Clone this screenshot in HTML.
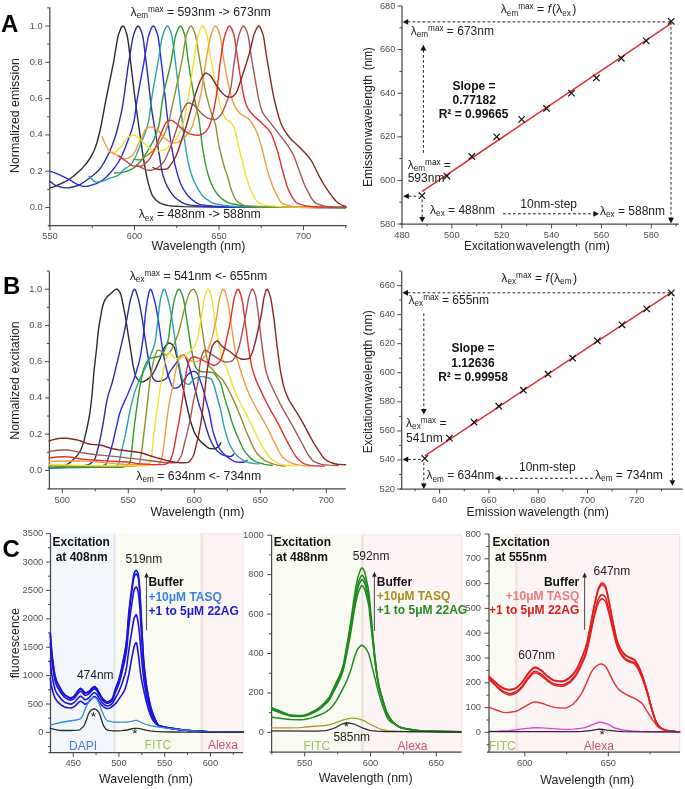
<!DOCTYPE html>
<html><head><meta charset="utf-8"><style>
html,body{margin:0;padding:0;background:#fff;}
svg{display:block;font-family:"Liberation Sans", sans-serif;will-change:transform;}
</style></head><body>
<svg width="685" height="789" viewBox="0 0 685 789">
<rect x="0" y="0" width="685" height="789" fill="#fff"/>
<text x="1" y="31.9" font-size="24" text-anchor="start" fill="#000" font-weight="bold" >A</text>
<text x="3" y="293.9" font-size="24" text-anchor="start" fill="#000" font-weight="bold" >B</text>
<text x="2.5" y="556.5" font-size="24" text-anchor="start" fill="#000" font-weight="bold" >C</text>
<rect x="50.5" y="533.4" width="63.1" height="219.1" fill="#f3f7fc"/>
<rect x="113.3" y="533.4" width="2.5" height="219.1" fill="#e3e9e9"/>
<rect x="115.8" y="533.4" width="85" height="219.1" fill="#f9fbf3"/>
<rect x="200.6" y="533.4" width="2" height="219.1" fill="#ede2dc"/>
<rect x="202.8" y="533.4" width="40.2" height="219.1" fill="#fdf5f5"/>
<rect x="202.8" y="533.9" width="40.2" height="218.4" fill="none" stroke="#f1dcdc" stroke-width="0.8"/>
<rect x="271.6" y="534.5" width="89.6" height="217.1" fill="#f9fbf3"/>
<rect x="361.2" y="534.5" width="1.6" height="217.1" fill="#e9dfd6"/>
<rect x="362.9" y="534.5" width="98.4" height="217.1" fill="#fdf5f5"/>
<rect x="363.2" y="534.9" width="98.1" height="216.5" fill="none" stroke="#f1dcdc" stroke-width="0.8"/>
<rect x="489.2" y="534.1" width="26.2" height="217.6" fill="#f9fbf3"/>
<rect x="515.2" y="534.1" width="1.6" height="217.6" fill="#ede2dc"/>
<rect x="516.8" y="534.1" width="163.2" height="217.6" fill="#fdf5f5"/>
<rect x="517.2" y="534.5" width="162.6" height="217" fill="none" stroke="#f1dcdc" stroke-width="0.8"/>
<line x1="49.8" y1="7.6" x2="49.8" y2="226.2" stroke="#484848" stroke-width="1.25" />
<line x1="47.8" y1="225.7" x2="346.6" y2="225.7" stroke="#484848" stroke-width="1.25" />
<line x1="45.3" y1="207.5" x2="49.8" y2="207.5" stroke="#484848" stroke-width="1.0" />
<line x1="45.3" y1="171.2" x2="49.8" y2="171.2" stroke="#484848" stroke-width="1.0" />
<line x1="45.3" y1="134.9" x2="49.8" y2="134.9" stroke="#484848" stroke-width="1.0" />
<line x1="45.3" y1="98.6" x2="49.8" y2="98.6" stroke="#484848" stroke-width="1.0" />
<line x1="45.3" y1="62.3" x2="49.8" y2="62.3" stroke="#484848" stroke-width="1.0" />
<line x1="45.3" y1="26" x2="49.8" y2="26" stroke="#484848" stroke-width="1.0" />
<line x1="47.2" y1="189.35" x2="49.8" y2="189.35" stroke="#484848" stroke-width="1.0" />
<line x1="47.2" y1="153.05" x2="49.8" y2="153.05" stroke="#484848" stroke-width="1.0" />
<line x1="47.2" y1="116.75" x2="49.8" y2="116.75" stroke="#484848" stroke-width="1.0" />
<line x1="47.2" y1="80.45" x2="49.8" y2="80.45" stroke="#484848" stroke-width="1.0" />
<line x1="47.2" y1="44.15" x2="49.8" y2="44.15" stroke="#484848" stroke-width="1.0" />
<line x1="47.2" y1="7.85" x2="49.8" y2="7.85" stroke="#484848" stroke-width="1.0" />
<line x1="50" y1="225.7" x2="50" y2="230.1" stroke="#484848" stroke-width="1.0" />
<line x1="134.5" y1="225.7" x2="134.5" y2="230.1" stroke="#484848" stroke-width="1.0" />
<line x1="219" y1="225.7" x2="219" y2="230.1" stroke="#484848" stroke-width="1.0" />
<line x1="303.5" y1="225.7" x2="303.5" y2="230.1" stroke="#484848" stroke-width="1.0" />
<line x1="92.25" y1="225.7" x2="92.25" y2="228.1" stroke="#484848" stroke-width="1.0" />
<line x1="176.75" y1="225.7" x2="176.75" y2="228.1" stroke="#484848" stroke-width="1.0" />
<line x1="261.25" y1="225.7" x2="261.25" y2="228.1" stroke="#484848" stroke-width="1.0" />
<line x1="345.75" y1="225.7" x2="345.75" y2="228.1" stroke="#484848" stroke-width="1.0" />
<text x="42.6" y="210" font-size="9.3" text-anchor="end" fill="#505050" font-weight="normal" >0.0</text>
<text x="42.6" y="173.7" font-size="9.3" text-anchor="end" fill="#505050" font-weight="normal" >0.2</text>
<text x="42.6" y="137.4" font-size="9.3" text-anchor="end" fill="#505050" font-weight="normal" >0.4</text>
<text x="42.6" y="101.1" font-size="9.3" text-anchor="end" fill="#505050" font-weight="normal" >0.6</text>
<text x="42.6" y="64.8" font-size="9.3" text-anchor="end" fill="#505050" font-weight="normal" >0.8</text>
<text x="42.6" y="28.5" font-size="9.3" text-anchor="end" fill="#505050" font-weight="normal" >1.0</text>
<text x="50" y="239.4" font-size="9.3" text-anchor="middle" fill="#505050" font-weight="normal" >550</text>
<text x="134.5" y="239.4" font-size="9.3" text-anchor="middle" fill="#505050" font-weight="normal" >600</text>
<text x="219" y="239.4" font-size="9.3" text-anchor="middle" fill="#505050" font-weight="normal" >650</text>
<text x="303.5" y="239.4" font-size="9.3" text-anchor="middle" fill="#505050" font-weight="normal" >700</text>
<text x="0" y="0" font-size="12.4" fill="#222" text-anchor="middle" transform="translate(19.3,115.5) rotate(-90)">Normalized emission</text>
<text x="198.5" y="249.8" font-size="12.4" text-anchor="middle" fill="#222" font-weight="normal" >Wavelength (nm)</text>
<text x="130.5" y="15.9" font-size="12.3" fill="#222" text-anchor="start">λ<tspan font-size="8.2" dy="2.4">em</tspan><tspan font-size="8.2" dy="-6.4">max</tspan><tspan dy="4"> = 593nm -&gt; 673nm</tspan></text>
<text x="138.7" y="218.4" font-size="12.3" fill="#222" text-anchor="start">λ<tspan font-size="8.2" dy="2.4">ex</tspan><tspan dy="-2.4"> = 488nm -&gt; 588nm</tspan></text>
<line x1="402" y1="6" x2="402" y2="224.5" stroke="#484848" stroke-width="1.25" />
<line x1="400" y1="224" x2="679" y2="224" stroke="#484848" stroke-width="1.25" />
<line x1="397.5" y1="224" x2="402" y2="224" stroke="#484848" stroke-width="1.0" />
<line x1="397.5" y1="180.4" x2="402" y2="180.4" stroke="#484848" stroke-width="1.0" />
<line x1="397.5" y1="136.8" x2="402" y2="136.8" stroke="#484848" stroke-width="1.0" />
<line x1="397.5" y1="93.2" x2="402" y2="93.2" stroke="#484848" stroke-width="1.0" />
<line x1="397.5" y1="49.6" x2="402" y2="49.6" stroke="#484848" stroke-width="1.0" />
<line x1="397.5" y1="6" x2="402" y2="6" stroke="#484848" stroke-width="1.0" />
<line x1="399.4" y1="202.2" x2="402" y2="202.2" stroke="#484848" stroke-width="1.0" />
<line x1="399.4" y1="158.6" x2="402" y2="158.6" stroke="#484848" stroke-width="1.0" />
<line x1="399.4" y1="115" x2="402" y2="115" stroke="#484848" stroke-width="1.0" />
<line x1="399.4" y1="71.4" x2="402" y2="71.4" stroke="#484848" stroke-width="1.0" />
<line x1="399.4" y1="27.8" x2="402" y2="27.8" stroke="#484848" stroke-width="1.0" />
<line x1="402" y1="224" x2="402" y2="228.4" stroke="#484848" stroke-width="1.0" />
<line x1="451.85" y1="224" x2="451.85" y2="228.4" stroke="#484848" stroke-width="1.0" />
<line x1="501.7" y1="224" x2="501.7" y2="228.4" stroke="#484848" stroke-width="1.0" />
<line x1="551.55" y1="224" x2="551.55" y2="228.4" stroke="#484848" stroke-width="1.0" />
<line x1="601.4" y1="224" x2="601.4" y2="228.4" stroke="#484848" stroke-width="1.0" />
<line x1="651.25" y1="224" x2="651.25" y2="228.4" stroke="#484848" stroke-width="1.0" />
<line x1="426.93" y1="224" x2="426.93" y2="226.4" stroke="#484848" stroke-width="1.0" />
<line x1="476.77" y1="224" x2="476.77" y2="226.4" stroke="#484848" stroke-width="1.0" />
<line x1="526.62" y1="224" x2="526.62" y2="226.4" stroke="#484848" stroke-width="1.0" />
<line x1="576.48" y1="224" x2="576.48" y2="226.4" stroke="#484848" stroke-width="1.0" />
<line x1="626.33" y1="224" x2="626.33" y2="226.4" stroke="#484848" stroke-width="1.0" />
<line x1="676.17" y1="224" x2="676.17" y2="226.4" stroke="#484848" stroke-width="1.0" />
<text x="395.4" y="226.5" font-size="9.3" text-anchor="end" fill="#505050" font-weight="normal" >580</text>
<text x="395.4" y="182.9" font-size="9.3" text-anchor="end" fill="#505050" font-weight="normal" >600</text>
<text x="395.4" y="139.3" font-size="9.3" text-anchor="end" fill="#505050" font-weight="normal" >620</text>
<text x="395.4" y="95.7" font-size="9.3" text-anchor="end" fill="#505050" font-weight="normal" >640</text>
<text x="395.4" y="52.1" font-size="9.3" text-anchor="end" fill="#505050" font-weight="normal" >660</text>
<text x="395.4" y="8.5" font-size="9.3" text-anchor="end" fill="#505050" font-weight="normal" >680</text>
<text x="402" y="238.3" font-size="9.3" text-anchor="middle" fill="#505050" font-weight="normal" >480</text>
<text x="451.85" y="238.3" font-size="9.3" text-anchor="middle" fill="#505050" font-weight="normal" >500</text>
<text x="501.7" y="238.3" font-size="9.3" text-anchor="middle" fill="#505050" font-weight="normal" >520</text>
<text x="551.55" y="238.3" font-size="9.3" text-anchor="middle" fill="#505050" font-weight="normal" >540</text>
<text x="601.4" y="238.3" font-size="9.3" text-anchor="middle" fill="#505050" font-weight="normal" >560</text>
<text x="651.25" y="238.3" font-size="9.3" text-anchor="middle" fill="#505050" font-weight="normal" >580</text>
<text x="0" y="0" font-size="12.2" fill="#222" textLength="49.5" lengthAdjust="spacingAndGlyphs" transform="translate(372,187.1) rotate(-90)">Emission</text>
<text x="0" y="0" font-size="12.2" fill="#222" textLength="62.2" lengthAdjust="spacingAndGlyphs" transform="translate(372,137) rotate(-90)">wavelength</text>
<text x="0" y="0" font-size="12.2" fill="#222" textLength="22.9" lengthAdjust="spacingAndGlyphs" transform="translate(372,70.2) rotate(-90)">(nm)</text>
<text x="464.1" y="249.8" font-size="12.2" fill="#222" textLength="51" lengthAdjust="spacingAndGlyphs">Excitation</text>
<text x="516.1" y="249.8" font-size="12.2" fill="#222" textLength="64.1" lengthAdjust="spacingAndGlyphs">wavelength</text>
<text x="584.4" y="249.8" font-size="12.2" fill="#222" textLength="25.5" lengthAdjust="spacingAndGlyphs">(nm)</text>
<line x1="49.4" y1="271.2" x2="49.4" y2="489.4" stroke="#484848" stroke-width="1.25" />
<line x1="47.4" y1="488.9" x2="346" y2="488.9" stroke="#484848" stroke-width="1.25" />
<line x1="44.9" y1="470.4" x2="49.4" y2="470.4" stroke="#484848" stroke-width="1.0" />
<line x1="44.9" y1="434.16" x2="49.4" y2="434.16" stroke="#484848" stroke-width="1.0" />
<line x1="44.9" y1="397.92" x2="49.4" y2="397.92" stroke="#484848" stroke-width="1.0" />
<line x1="44.9" y1="361.68" x2="49.4" y2="361.68" stroke="#484848" stroke-width="1.0" />
<line x1="44.9" y1="325.44" x2="49.4" y2="325.44" stroke="#484848" stroke-width="1.0" />
<line x1="44.9" y1="289.2" x2="49.4" y2="289.2" stroke="#484848" stroke-width="1.0" />
<line x1="46.8" y1="452.28" x2="49.4" y2="452.28" stroke="#484848" stroke-width="1.0" />
<line x1="46.8" y1="416.04" x2="49.4" y2="416.04" stroke="#484848" stroke-width="1.0" />
<line x1="46.8" y1="379.8" x2="49.4" y2="379.8" stroke="#484848" stroke-width="1.0" />
<line x1="46.8" y1="343.56" x2="49.4" y2="343.56" stroke="#484848" stroke-width="1.0" />
<line x1="46.8" y1="307.32" x2="49.4" y2="307.32" stroke="#484848" stroke-width="1.0" />
<line x1="46.8" y1="271.08" x2="49.4" y2="271.08" stroke="#484848" stroke-width="1.0" />
<line x1="62.3" y1="488.9" x2="62.3" y2="493.3" stroke="#484848" stroke-width="1.0" />
<line x1="128.3" y1="488.9" x2="128.3" y2="493.3" stroke="#484848" stroke-width="1.0" />
<line x1="194.3" y1="488.9" x2="194.3" y2="493.3" stroke="#484848" stroke-width="1.0" />
<line x1="260.3" y1="488.9" x2="260.3" y2="493.3" stroke="#484848" stroke-width="1.0" />
<line x1="326.3" y1="488.9" x2="326.3" y2="493.3" stroke="#484848" stroke-width="1.0" />
<line x1="95.3" y1="488.9" x2="95.3" y2="491.3" stroke="#484848" stroke-width="1.0" />
<line x1="161.3" y1="488.9" x2="161.3" y2="491.3" stroke="#484848" stroke-width="1.0" />
<line x1="227.3" y1="488.9" x2="227.3" y2="491.3" stroke="#484848" stroke-width="1.0" />
<line x1="293.3" y1="488.9" x2="293.3" y2="491.3" stroke="#484848" stroke-width="1.0" />
<text x="42.3" y="472.9" font-size="9.3" text-anchor="end" fill="#505050" font-weight="normal" >0.0</text>
<text x="42.3" y="436.66" font-size="9.3" text-anchor="end" fill="#505050" font-weight="normal" >0.2</text>
<text x="42.3" y="400.42" font-size="9.3" text-anchor="end" fill="#505050" font-weight="normal" >0.4</text>
<text x="42.3" y="364.18" font-size="9.3" text-anchor="end" fill="#505050" font-weight="normal" >0.6</text>
<text x="42.3" y="327.94" font-size="9.3" text-anchor="end" fill="#505050" font-weight="normal" >0.8</text>
<text x="42.3" y="291.7" font-size="9.3" text-anchor="end" fill="#505050" font-weight="normal" >1.0</text>
<text x="62.3" y="502.8" font-size="9.3" text-anchor="middle" fill="#505050" font-weight="normal" >500</text>
<text x="128.3" y="502.8" font-size="9.3" text-anchor="middle" fill="#505050" font-weight="normal" >550</text>
<text x="194.3" y="502.8" font-size="9.3" text-anchor="middle" fill="#505050" font-weight="normal" >600</text>
<text x="260.3" y="502.8" font-size="9.3" text-anchor="middle" fill="#505050" font-weight="normal" >650</text>
<text x="326.3" y="502.8" font-size="9.3" text-anchor="middle" fill="#505050" font-weight="normal" >700</text>
<text x="0" y="0" font-size="12.4" fill="#222" text-anchor="middle" transform="translate(19.3,380.5) rotate(-90)">Normalized excitation</text>
<text x="197.4" y="515.8" font-size="12.4" text-anchor="middle" fill="#222" font-weight="normal" >Wavelength (nm)</text>
<text x="129.7" y="279.5" font-size="12.3" fill="#222" text-anchor="start">λ<tspan font-size="8.2" dy="2.4">ex</tspan><tspan font-size="8.2" dy="-6.4">max</tspan><tspan dy="4"> = 541nm &lt;- 655nm</tspan></text>
<text x="136.3" y="480" font-size="12.3" fill="#222" text-anchor="start">λ<tspan font-size="8.2" dy="2.4">em</tspan><tspan dy="-2.4"> = 634nm &lt;- 734nm</tspan></text>
<line x1="401.7" y1="271.3" x2="401.7" y2="489.5" stroke="#484848" stroke-width="1.25" />
<line x1="399.7" y1="489" x2="682.6" y2="489" stroke="#484848" stroke-width="1.25" />
<line x1="397.2" y1="489" x2="401.7" y2="489" stroke="#484848" stroke-width="1.0" />
<line x1="397.2" y1="459.94" x2="401.7" y2="459.94" stroke="#484848" stroke-width="1.0" />
<line x1="397.2" y1="430.89" x2="401.7" y2="430.89" stroke="#484848" stroke-width="1.0" />
<line x1="397.2" y1="401.83" x2="401.7" y2="401.83" stroke="#484848" stroke-width="1.0" />
<line x1="397.2" y1="372.77" x2="401.7" y2="372.77" stroke="#484848" stroke-width="1.0" />
<line x1="397.2" y1="343.71" x2="401.7" y2="343.71" stroke="#484848" stroke-width="1.0" />
<line x1="397.2" y1="314.66" x2="401.7" y2="314.66" stroke="#484848" stroke-width="1.0" />
<line x1="397.2" y1="285.6" x2="401.7" y2="285.6" stroke="#484848" stroke-width="1.0" />
<line x1="399.1" y1="474.47" x2="401.7" y2="474.47" stroke="#484848" stroke-width="1.0" />
<line x1="399.1" y1="445.41" x2="401.7" y2="445.41" stroke="#484848" stroke-width="1.0" />
<line x1="399.1" y1="416.36" x2="401.7" y2="416.36" stroke="#484848" stroke-width="1.0" />
<line x1="399.1" y1="387.3" x2="401.7" y2="387.3" stroke="#484848" stroke-width="1.0" />
<line x1="399.1" y1="358.24" x2="401.7" y2="358.24" stroke="#484848" stroke-width="1.0" />
<line x1="399.1" y1="329.19" x2="401.7" y2="329.19" stroke="#484848" stroke-width="1.0" />
<line x1="399.1" y1="300.13" x2="401.7" y2="300.13" stroke="#484848" stroke-width="1.0" />
<line x1="399.1" y1="271.07" x2="401.7" y2="271.07" stroke="#484848" stroke-width="1.0" />
<line x1="439.6" y1="489" x2="439.6" y2="493.4" stroke="#484848" stroke-width="1.0" />
<line x1="488.9" y1="489" x2="488.9" y2="493.4" stroke="#484848" stroke-width="1.0" />
<line x1="538.2" y1="489" x2="538.2" y2="493.4" stroke="#484848" stroke-width="1.0" />
<line x1="587.5" y1="489" x2="587.5" y2="493.4" stroke="#484848" stroke-width="1.0" />
<line x1="636.8" y1="489" x2="636.8" y2="493.4" stroke="#484848" stroke-width="1.0" />
<line x1="414.95" y1="489" x2="414.95" y2="491.4" stroke="#484848" stroke-width="1.0" />
<line x1="464.25" y1="489" x2="464.25" y2="491.4" stroke="#484848" stroke-width="1.0" />
<line x1="513.55" y1="489" x2="513.55" y2="491.4" stroke="#484848" stroke-width="1.0" />
<line x1="562.85" y1="489" x2="562.85" y2="491.4" stroke="#484848" stroke-width="1.0" />
<line x1="612.15" y1="489" x2="612.15" y2="491.4" stroke="#484848" stroke-width="1.0" />
<line x1="661.45" y1="489" x2="661.45" y2="491.4" stroke="#484848" stroke-width="1.0" />
<text x="395" y="491.5" font-size="9.3" text-anchor="end" fill="#505050" font-weight="normal" >520</text>
<text x="395" y="462.44" font-size="9.3" text-anchor="end" fill="#505050" font-weight="normal" >540</text>
<text x="395" y="433.39" font-size="9.3" text-anchor="end" fill="#505050" font-weight="normal" >560</text>
<text x="395" y="404.33" font-size="9.3" text-anchor="end" fill="#505050" font-weight="normal" >580</text>
<text x="395" y="375.27" font-size="9.3" text-anchor="end" fill="#505050" font-weight="normal" >600</text>
<text x="395" y="346.21" font-size="9.3" text-anchor="end" fill="#505050" font-weight="normal" >620</text>
<text x="395" y="317.16" font-size="9.3" text-anchor="end" fill="#505050" font-weight="normal" >640</text>
<text x="395" y="288.1" font-size="9.3" text-anchor="end" fill="#505050" font-weight="normal" >660</text>
<text x="439.6" y="502.9" font-size="9.3" text-anchor="middle" fill="#505050" font-weight="normal" >640</text>
<text x="488.9" y="502.9" font-size="9.3" text-anchor="middle" fill="#505050" font-weight="normal" >660</text>
<text x="538.2" y="502.9" font-size="9.3" text-anchor="middle" fill="#505050" font-weight="normal" >680</text>
<text x="587.5" y="502.9" font-size="9.3" text-anchor="middle" fill="#505050" font-weight="normal" >700</text>
<text x="636.8" y="502.9" font-size="9.3" text-anchor="middle" fill="#505050" font-weight="normal" >720</text>
<text x="0" y="0" font-size="12.2" fill="#222" textLength="50.7" lengthAdjust="spacingAndGlyphs" transform="translate(372.3,453.3) rotate(-90)">Excitation</text>
<text x="0" y="0" font-size="12.2" fill="#222" textLength="61.9" lengthAdjust="spacingAndGlyphs" transform="translate(372.3,401.7) rotate(-90)">wavelength</text>
<text x="0" y="0" font-size="12.2" fill="#222" textLength="25.4" lengthAdjust="spacingAndGlyphs" transform="translate(372.3,335.4) rotate(-90)">(nm)</text>
<text x="466.5" y="516.3" font-size="12.2" fill="#222" textLength="49.5" lengthAdjust="spacingAndGlyphs">Emission</text>
<text x="518.6" y="516.3" font-size="12.2" fill="#222" textLength="61" lengthAdjust="spacingAndGlyphs">wavelength</text>
<text x="583.3" y="516.3" font-size="12.2" fill="#222" textLength="25.5" lengthAdjust="spacingAndGlyphs">(nm)</text>
<line x1="50.5" y1="533.4" x2="50.5" y2="753" stroke="#484848" stroke-width="1.25" />
<line x1="48.5" y1="752.5" x2="243" y2="752.5" stroke="#484848" stroke-width="1.25" />
<line x1="46" y1="732.4" x2="50.5" y2="732.4" stroke="#484848" stroke-width="1.0" />
<line x1="46" y1="704" x2="50.5" y2="704" stroke="#484848" stroke-width="1.0" />
<line x1="46" y1="675.6" x2="50.5" y2="675.6" stroke="#484848" stroke-width="1.0" />
<line x1="46" y1="647.2" x2="50.5" y2="647.2" stroke="#484848" stroke-width="1.0" />
<line x1="46" y1="618.8" x2="50.5" y2="618.8" stroke="#484848" stroke-width="1.0" />
<line x1="46" y1="590.4" x2="50.5" y2="590.4" stroke="#484848" stroke-width="1.0" />
<line x1="46" y1="562" x2="50.5" y2="562" stroke="#484848" stroke-width="1.0" />
<line x1="46" y1="533.6" x2="50.5" y2="533.6" stroke="#484848" stroke-width="1.0" />
<line x1="47.9" y1="746.6" x2="50.5" y2="746.6" stroke="#484848" stroke-width="1.0" />
<line x1="47.9" y1="718.2" x2="50.5" y2="718.2" stroke="#484848" stroke-width="1.0" />
<line x1="47.9" y1="689.8" x2="50.5" y2="689.8" stroke="#484848" stroke-width="1.0" />
<line x1="47.9" y1="661.4" x2="50.5" y2="661.4" stroke="#484848" stroke-width="1.0" />
<line x1="47.9" y1="633" x2="50.5" y2="633" stroke="#484848" stroke-width="1.0" />
<line x1="47.9" y1="604.6" x2="50.5" y2="604.6" stroke="#484848" stroke-width="1.0" />
<line x1="47.9" y1="576.2" x2="50.5" y2="576.2" stroke="#484848" stroke-width="1.0" />
<line x1="47.9" y1="547.8" x2="50.5" y2="547.8" stroke="#484848" stroke-width="1.0" />
<line x1="73.2" y1="752.5" x2="73.2" y2="756.9" stroke="#484848" stroke-width="1.0" />
<line x1="118.93" y1="752.5" x2="118.93" y2="756.9" stroke="#484848" stroke-width="1.0" />
<line x1="164.67" y1="752.5" x2="164.67" y2="756.9" stroke="#484848" stroke-width="1.0" />
<line x1="210.4" y1="752.5" x2="210.4" y2="756.9" stroke="#484848" stroke-width="1.0" />
<line x1="96.07" y1="752.5" x2="96.07" y2="754.9" stroke="#484848" stroke-width="1.0" />
<line x1="141.8" y1="752.5" x2="141.8" y2="754.9" stroke="#484848" stroke-width="1.0" />
<line x1="187.53" y1="752.5" x2="187.53" y2="754.9" stroke="#484848" stroke-width="1.0" />
<line x1="233.27" y1="752.5" x2="233.27" y2="754.9" stroke="#484848" stroke-width="1.0" />
<text x="43.3" y="734.9" font-size="9.3" text-anchor="end" fill="#505050" font-weight="normal" >0</text>
<text x="43.3" y="706.5" font-size="9.3" text-anchor="end" fill="#505050" font-weight="normal" >500</text>
<text x="43.3" y="678.1" font-size="9.3" text-anchor="end" fill="#505050" font-weight="normal" >1000</text>
<text x="43.3" y="649.7" font-size="9.3" text-anchor="end" fill="#505050" font-weight="normal" >1500</text>
<text x="43.3" y="621.3" font-size="9.3" text-anchor="end" fill="#505050" font-weight="normal" >2000</text>
<text x="43.3" y="592.9" font-size="9.3" text-anchor="end" fill="#505050" font-weight="normal" >2500</text>
<text x="43.3" y="564.5" font-size="9.3" text-anchor="end" fill="#505050" font-weight="normal" >3000</text>
<text x="43.3" y="536.1" font-size="9.3" text-anchor="end" fill="#505050" font-weight="normal" >3500</text>
<text x="73.2" y="765.6" font-size="9.3" text-anchor="middle" fill="#505050" font-weight="normal" >450</text>
<text x="118.93" y="765.6" font-size="9.3" text-anchor="middle" fill="#505050" font-weight="normal" >500</text>
<text x="164.67" y="765.6" font-size="9.3" text-anchor="middle" fill="#505050" font-weight="normal" >550</text>
<text x="210.4" y="765.6" font-size="9.3" text-anchor="middle" fill="#505050" font-weight="normal" >600</text>
<text x="0" y="0" font-size="12.4" fill="#222" text-anchor="middle" transform="translate(19,643.2) rotate(-90)">fluorescence</text>
<text x="146" y="782.8" font-size="12.4" text-anchor="middle" fill="#222" font-weight="normal" >Wavelength (nm)</text>
<line x1="271.6" y1="535" x2="271.6" y2="752.5" stroke="#484848" stroke-width="1.25" />
<line x1="269.6" y1="752" x2="461.5" y2="752" stroke="#484848" stroke-width="1.25" />
<line x1="267.1" y1="732.4" x2="271.6" y2="732.4" stroke="#484848" stroke-width="1.0" />
<line x1="267.1" y1="692.96" x2="271.6" y2="692.96" stroke="#484848" stroke-width="1.0" />
<line x1="267.1" y1="653.52" x2="271.6" y2="653.52" stroke="#484848" stroke-width="1.0" />
<line x1="267.1" y1="614.08" x2="271.6" y2="614.08" stroke="#484848" stroke-width="1.0" />
<line x1="267.1" y1="574.64" x2="271.6" y2="574.64" stroke="#484848" stroke-width="1.0" />
<line x1="267.1" y1="535.2" x2="271.6" y2="535.2" stroke="#484848" stroke-width="1.0" />
<line x1="269" y1="712.68" x2="271.6" y2="712.68" stroke="#484848" stroke-width="1.0" />
<line x1="269" y1="673.24" x2="271.6" y2="673.24" stroke="#484848" stroke-width="1.0" />
<line x1="269" y1="633.8" x2="271.6" y2="633.8" stroke="#484848" stroke-width="1.0" />
<line x1="269" y1="594.36" x2="271.6" y2="594.36" stroke="#484848" stroke-width="1.0" />
<line x1="269" y1="554.92" x2="271.6" y2="554.92" stroke="#484848" stroke-width="1.0" />
<line x1="304.7" y1="752" x2="304.7" y2="756.4" stroke="#484848" stroke-width="1.0" />
<line x1="370.5" y1="752" x2="370.5" y2="756.4" stroke="#484848" stroke-width="1.0" />
<line x1="436.3" y1="752" x2="436.3" y2="756.4" stroke="#484848" stroke-width="1.0" />
<line x1="271.8" y1="752" x2="271.8" y2="754.4" stroke="#484848" stroke-width="1.0" />
<line x1="337.6" y1="752" x2="337.6" y2="754.4" stroke="#484848" stroke-width="1.0" />
<line x1="403.4" y1="752" x2="403.4" y2="754.4" stroke="#484848" stroke-width="1.0" />
<text x="263.8" y="734.9" font-size="9.3" text-anchor="end" fill="#505050" font-weight="normal" >0</text>
<text x="263.8" y="695.46" font-size="9.3" text-anchor="end" fill="#505050" font-weight="normal" >200</text>
<text x="263.8" y="656.02" font-size="9.3" text-anchor="end" fill="#505050" font-weight="normal" >400</text>
<text x="263.8" y="616.58" font-size="9.3" text-anchor="end" fill="#505050" font-weight="normal" >600</text>
<text x="263.8" y="577.14" font-size="9.3" text-anchor="end" fill="#505050" font-weight="normal" >800</text>
<text x="263.8" y="537.7" font-size="9.3" text-anchor="end" fill="#505050" font-weight="normal" >1000</text>
<text x="304.7" y="765.6" font-size="9.3" text-anchor="middle" fill="#505050" font-weight="normal" >550</text>
<text x="370.5" y="765.6" font-size="9.3" text-anchor="middle" fill="#505050" font-weight="normal" >600</text>
<text x="436.3" y="765.6" font-size="9.3" text-anchor="middle" fill="#505050" font-weight="normal" >650</text>
<text x="365.6" y="782.4" font-size="12.4" text-anchor="middle" fill="#222" font-weight="normal" >Wavelength (nm)</text>
<line x1="489" y1="534" x2="489" y2="752.5" stroke="#484848" stroke-width="1.25" />
<line x1="487" y1="752" x2="680" y2="752" stroke="#484848" stroke-width="1.25" />
<line x1="484.5" y1="732.4" x2="489" y2="732.4" stroke="#484848" stroke-width="1.0" />
<line x1="484.5" y1="707.6" x2="489" y2="707.6" stroke="#484848" stroke-width="1.0" />
<line x1="484.5" y1="682.8" x2="489" y2="682.8" stroke="#484848" stroke-width="1.0" />
<line x1="484.5" y1="658" x2="489" y2="658" stroke="#484848" stroke-width="1.0" />
<line x1="484.5" y1="633.2" x2="489" y2="633.2" stroke="#484848" stroke-width="1.0" />
<line x1="484.5" y1="608.4" x2="489" y2="608.4" stroke="#484848" stroke-width="1.0" />
<line x1="484.5" y1="583.6" x2="489" y2="583.6" stroke="#484848" stroke-width="1.0" />
<line x1="484.5" y1="558.8" x2="489" y2="558.8" stroke="#484848" stroke-width="1.0" />
<line x1="484.5" y1="534" x2="489" y2="534" stroke="#484848" stroke-width="1.0" />
<line x1="486.4" y1="744.8" x2="489" y2="744.8" stroke="#484848" stroke-width="1.0" />
<line x1="486.4" y1="720" x2="489" y2="720" stroke="#484848" stroke-width="1.0" />
<line x1="486.4" y1="695.2" x2="489" y2="695.2" stroke="#484848" stroke-width="1.0" />
<line x1="486.4" y1="670.4" x2="489" y2="670.4" stroke="#484848" stroke-width="1.0" />
<line x1="486.4" y1="645.6" x2="489" y2="645.6" stroke="#484848" stroke-width="1.0" />
<line x1="486.4" y1="620.8" x2="489" y2="620.8" stroke="#484848" stroke-width="1.0" />
<line x1="486.4" y1="596" x2="489" y2="596" stroke="#484848" stroke-width="1.0" />
<line x1="486.4" y1="571.2" x2="489" y2="571.2" stroke="#484848" stroke-width="1.0" />
<line x1="486.4" y1="546.4" x2="489" y2="546.4" stroke="#484848" stroke-width="1.0" />
<line x1="524.8" y1="752" x2="524.8" y2="756.4" stroke="#484848" stroke-width="1.0" />
<line x1="608.3" y1="752" x2="608.3" y2="756.4" stroke="#484848" stroke-width="1.0" />
<line x1="566.55" y1="752" x2="566.55" y2="754.4" stroke="#484848" stroke-width="1.0" />
<line x1="650.05" y1="752" x2="650.05" y2="754.4" stroke="#484848" stroke-width="1.0" />
<text x="481" y="734.9" font-size="9.3" text-anchor="end" fill="#505050" font-weight="normal" >0</text>
<text x="481" y="710.1" font-size="9.3" text-anchor="end" fill="#505050" font-weight="normal" >100</text>
<text x="481" y="685.3" font-size="9.3" text-anchor="end" fill="#505050" font-weight="normal" >200</text>
<text x="481" y="660.5" font-size="9.3" text-anchor="end" fill="#505050" font-weight="normal" >300</text>
<text x="481" y="635.7" font-size="9.3" text-anchor="end" fill="#505050" font-weight="normal" >400</text>
<text x="481" y="610.9" font-size="9.3" text-anchor="end" fill="#505050" font-weight="normal" >500</text>
<text x="481" y="586.1" font-size="9.3" text-anchor="end" fill="#505050" font-weight="normal" >600</text>
<text x="481" y="561.3" font-size="9.3" text-anchor="end" fill="#505050" font-weight="normal" >700</text>
<text x="481" y="536.5" font-size="9.3" text-anchor="end" fill="#505050" font-weight="normal" >800</text>
<text x="524.8" y="765.6" font-size="9.3" text-anchor="middle" fill="#505050" font-weight="normal" >600</text>
<text x="608.3" y="765.6" font-size="9.3" text-anchor="middle" fill="#505050" font-weight="normal" >650</text>
<text x="587.2" y="784" font-size="12.4" text-anchor="middle" fill="#222" font-weight="normal" >Wavelength (nm)</text>
<path d="M50.0,187.9 L53.4,186.8 L56.8,185.5 L61.0,183.6 L64.4,182.0 L66.9,180.6 L70.3,178.5 L72.8,176.7 L75.3,174.6 L78.7,171.6 L82.1,168.4 L84.6,165.6 L86.3,163.5 L88.9,160.0 L90.6,157.4 L92.2,154.4 L93.9,151.0 L95.6,146.8 L97.3,141.3 L99.9,131.3 L101.5,123.7 L105.8,100.4 L113.4,63.2 L114.2,58.5 L116.8,42.7 L117.6,38.3 L118.4,35.1 L120.1,30.2 L121.0,28.1 L121.8,26.7 L122.7,26.0 L123.5,26.3 L124.4,27.5 L125.2,29.4 L126.9,34.5 L127.7,38.4 L128.6,44.6 L130.3,59.5 L135.3,100.8 L137.9,120.0 L142.9,155.1 L144.6,165.2 L146.3,174.5 L147.2,178.6 L148.0,182.1 L149.7,188.1 L151.4,193.2 L152.2,195.1 L153.1,196.6 L154.8,198.8 L155.6,199.7 L157.3,201.3 L159.0,202.5 L159.8,202.9 L161.5,203.6 L164.9,204.8 L168.3,205.6 L171.7,206.0 L183.5,206.6 L199.6,206.9 L241.8,207.2 L292.5,207.4 L345.8,207.5" fill="none" stroke="#2b2b2b" stroke-width="1.4" stroke-linejoin="round" stroke-linecap="round" />
<path d="M50.0,181.4 L53.4,184.0 L55.1,185.1 L56.8,185.9 L59.3,186.7 L63.5,187.6 L65.2,187.8 L66.9,187.9 L69.4,187.7 L72.8,187.0 L77.9,185.5 L80.4,184.3 L83.8,182.2 L92.2,176.0 L95.6,173.2 L98.2,170.7 L99.9,168.8 L101.5,166.5 L104.1,162.4 L106.6,157.7 L109.2,152.5 L110.8,148.8 L112.5,144.5 L114.2,139.8 L115.9,134.5 L118.4,125.3 L121.0,114.2 L122.7,105.3 L124.4,93.9 L127.7,68.9 L132.0,42.2 L132.8,37.9 L133.7,34.7 L134.5,32.3 L135.3,30.0 L136.2,28.1 L137.0,26.7 L137.9,26.0 L138.7,26.3 L139.6,27.3 L140.4,29.0 L142.1,33.7 L142.9,37.1 L143.8,42.6 L144.6,49.5 L147.2,70.7 L150.6,100.9 L151.4,107.6 L153.1,118.6 L159.0,153.1 L161.5,169.0 L162.4,173.0 L163.2,176.1 L164.9,181.2 L165.8,183.3 L167.5,186.9 L170.0,191.1 L171.7,193.6 L174.2,196.7 L175.9,198.3 L179.3,200.7 L181.8,202.3 L184.4,203.6 L186.9,204.5 L190.3,205.1 L196.2,205.7 L201.3,206.2 L207.2,206.6 L217.3,206.9 L252.0,207.2 L296.7,207.4 L345.8,207.5" fill="none" stroke="#2d2d96" stroke-width="1.4" stroke-linejoin="round" stroke-linecap="round" />
<path d="M50.0,171.2 L53.4,172.4 L56.8,173.7 L64.4,177.1 L70.3,180.1 L75.3,183.3 L77.0,184.2 L80.4,185.6 L82.1,186.1 L83.8,186.4 L85.5,186.4 L87.2,186.2 L89.7,185.7 L95.6,183.9 L97.3,183.2 L99.0,182.3 L102.4,180.3 L104.1,179.0 L105.8,177.5 L109.2,174.1 L112.5,170.3 L115.9,165.9 L118.4,162.1 L120.1,159.1 L121.8,155.7 L123.5,151.9 L126.0,145.6 L130.3,134.2 L132.0,129.0 L132.8,126.0 L133.7,122.6 L134.5,118.6 L137.0,100.4 L137.9,95.3 L139.6,85.7 L143.8,63.2 L147.2,42.5 L148.0,38.0 L148.9,34.7 L150.6,30.0 L151.4,28.1 L152.2,26.7 L153.1,26.0 L153.9,26.3 L154.8,27.3 L155.6,29.0 L157.3,33.7 L158.2,37.1 L159.0,42.6 L162.4,70.9 L166.6,110.5 L168.3,124.1 L170.0,136.5 L171.7,147.5 L173.4,156.8 L175.1,165.1 L176.8,171.8 L178.4,177.4 L180.1,182.3 L181.8,186.2 L183.5,189.3 L186.0,193.2 L187.7,195.4 L190.3,198.1 L192.8,200.2 L195.3,202.1 L197.9,203.6 L199.6,204.4 L201.3,204.8 L206.3,205.4 L212.2,206.0 L218.2,206.4 L224.1,206.7 L230.8,206.9 L252.0,207.1 L297.6,207.4 L345.8,207.5" fill="none" stroke="#2a2ae8" stroke-width="1.4" stroke-linejoin="round" stroke-linecap="round" />
<path d="M88.9,176.3 L90.6,177.9 L94.8,181.6 L95.6,182.0 L96.5,182.1 L99.0,181.8 L103.2,181.0 L104.9,180.4 L110.0,178.2 L115.9,176.3 L117.6,175.5 L119.3,174.6 L120.1,173.8 L123.5,169.9 L125.2,168.6 L128.6,166.5 L130.3,165.2 L131.1,164.3 L132.0,163.1 L132.8,161.8 L134.5,158.7 L136.2,155.3 L137.0,153.3 L144.6,134.5 L146.3,129.6 L148.0,123.6 L148.9,119.8 L149.7,114.4 L151.4,100.4 L153.1,89.6 L158.2,61.3 L161.5,40.5 L162.4,36.5 L163.2,33.7 L164.9,29.2 L165.8,27.4 L166.6,26.3 L167.5,26.0 L168.3,26.6 L169.1,27.9 L170.0,29.8 L171.7,34.7 L172.5,39.1 L173.4,45.3 L176.8,73.3 L183.5,132.4 L186.0,149.9 L187.7,159.8 L188.6,164.1 L189.4,167.7 L191.1,173.4 L192.8,178.2 L194.5,182.2 L196.2,185.6 L198.7,190.2 L201.3,194.2 L202.9,196.2 L203.8,197.0 L205.5,198.4 L208.9,200.8 L211.4,202.3 L213.9,203.3 L216.5,204.0 L223.2,205.2 L229.1,206.0 L235.1,206.5 L239.3,206.8 L243.5,206.9 L267.2,207.2 L304.3,207.4 L345.8,207.5" fill="none" stroke="#2aa3a8" stroke-width="1.4" stroke-linejoin="round" stroke-linecap="round" />
<path d="M114.4,173.0 L116.9,172.9 L120.3,172.6 L123.7,172.1 L126.2,171.4 L128.8,170.5 L131.3,169.3 L133.8,167.9 L135.5,166.7 L137.2,165.1 L139.7,162.3 L142.3,159.2 L144.0,156.8 L146.5,152.8 L150.7,145.7 L152.4,142.7 L154.1,139.1 L156.6,132.7 L158.3,127.2 L159.2,123.8 L160.0,119.5 L161.7,105.4 L162.6,99.4 L163.4,94.8 L165.1,86.9 L169.3,70.0 L171.0,62.3 L171.8,57.6 L174.4,41.7 L175.2,37.3 L176.1,34.2 L177.8,29.6 L178.6,27.7 L179.5,26.5 L180.3,26.0 L181.1,26.4 L182.0,27.6 L182.8,29.4 L184.5,34.2 L185.4,38.2 L186.2,44.4 L187.9,58.6 L190.4,75.3 L193.0,90.3 L194.7,99.5 L198.0,114.9 L198.9,119.4 L199.7,125.0 L202.3,146.0 L204.0,156.3 L205.6,164.9 L206.5,168.6 L208.2,174.7 L209.9,180.0 L211.6,184.4 L213.3,187.8 L214.9,190.6 L217.5,194.3 L219.2,196.3 L220.9,198.0 L221.7,198.7 L224.2,200.4 L227.6,202.3 L230.2,203.4 L232.7,204.0 L238.6,205.0 L244.5,205.8 L249.6,206.4 L258.0,206.9 L272.4,207.1 L307.9,207.4 L345.8,207.5" fill="none" stroke="#2c9c2c" stroke-width="1.4" stroke-linejoin="round" stroke-linecap="round" />
<path d="M134.0,159.2 L135.7,159.6 L137.4,159.7 L139.9,159.7 L140.8,159.5 L141.6,159.2 L143.3,158.2 L148.4,154.5 L150.9,152.5 L153.4,150.1 L155.1,148.3 L156.8,146.3 L158.5,144.0 L160.2,141.5 L161.9,138.7 L163.6,135.6 L165.3,132.1 L166.9,127.9 L167.8,125.5 L168.6,122.5 L169.5,119.0 L172.9,102.8 L178.8,76.1 L181.3,64.0 L182.2,59.6 L184.7,43.7 L185.5,38.9 L186.4,35.3 L188.1,30.4 L188.9,28.4 L189.8,26.9 L190.6,26.1 L191.5,26.2 L192.3,27.1 L193.1,28.7 L194.8,33.2 L195.7,36.0 L196.5,40.3 L199.1,56.7 L202.4,75.7 L205.0,88.8 L206.7,96.4 L209.2,105.9 L211.7,114.1 L214.3,120.7 L215.1,123.4 L216.0,127.2 L218.5,143.1 L220.2,151.1 L221.9,158.0 L224.4,167.2 L225.3,169.9 L227.8,177.2 L230.3,186.7 L232.0,191.6 L233.7,195.8 L234.5,197.6 L235.4,199.1 L236.2,200.3 L237.1,201.3 L237.9,202.0 L240.5,203.7 L242.2,204.6 L243.8,205.2 L244.7,205.5 L246.4,205.7 L254.0,206.2 L265.8,206.8 L280.2,207.1 L314.8,207.4 L345.8,207.5" fill="none" stroke="#8f8f2e" stroke-width="1.4" stroke-linejoin="round" stroke-linecap="round" />
<path d="M112.2,151.4 L113.0,152.2 L113.9,152.6 L114.7,152.6 L115.6,152.1 L118.1,149.4 L120.6,147.2 L121.5,146.3 L122.3,145.1 L124.9,140.7 L126.6,138.6 L127.4,137.9 L129.1,136.8 L130.8,136.0 L132.5,135.4 L133.3,135.3 L134.2,135.3 L135.0,135.5 L135.9,135.9 L136.7,136.5 L142.6,141.5 L146.0,145.0 L147.7,146.6 L151.9,149.9 L152.8,150.4 L153.6,150.7 L154.4,150.9 L158.7,150.8 L161.2,150.6 L163.7,149.8 L165.4,148.9 L168.0,147.1 L172.2,143.5 L174.7,140.8 L176.4,138.5 L178.1,135.9 L178.9,134.3 L180.6,130.4 L181.5,128.0 L183.2,122.7 L184.0,119.8 L184.9,116.1 L186.6,107.2 L189.1,92.3 L194.2,59.0 L195.8,47.4 L196.7,42.0 L197.5,37.4 L198.4,34.2 L200.1,29.5 L200.9,27.7 L201.8,26.5 L202.6,26.0 L203.5,26.4 L204.3,27.7 L205.1,29.5 L206.8,34.2 L207.7,37.9 L208.5,43.3 L210.2,55.5 L211.9,65.2 L216.1,86.7 L218.7,100.4 L219.5,104.1 L220.4,106.9 L222.0,111.6 L222.9,113.6 L224.6,116.9 L225.4,118.1 L226.3,119.1 L227.1,119.9 L230.5,122.3 L231.3,123.1 L232.2,124.1 L233.0,125.4 L233.9,126.9 L234.7,129.0 L235.6,132.0 L238.9,147.6 L241.5,158.0 L246.5,177.3 L248.2,183.2 L249.9,188.1 L251.6,192.0 L254.2,197.2 L255.8,200.0 L256.7,201.0 L257.5,201.8 L258.4,202.4 L260.9,203.7 L263.4,204.7 L265.1,205.1 L267.7,205.5 L276.1,206.4 L283.7,206.9 L297.2,207.1 L320.9,207.4 L345.8,207.5" fill="none" stroke="#f2e030" stroke-width="1.4" stroke-linejoin="round" stroke-linecap="round" />
<path d="M102.1,136.7 L104.6,142.5 L107.1,147.5 L108.8,150.3 L109.7,151.2 L111.3,152.4 L114.7,154.0 L115.6,154.5 L119.0,156.9 L122.3,158.4 L124.0,158.8 L124.9,158.9 L126.6,158.6 L127.4,158.3 L129.1,157.5 L131.6,155.9 L132.5,155.1 L133.3,154.1 L135.0,151.6 L135.9,150.0 L138.4,143.6 L140.1,140.3 L142.6,135.6 L143.5,133.7 L144.3,131.6 L145.1,129.9 L146.0,129.0 L146.8,128.4 L148.5,127.4 L149.4,127.1 L150.2,126.9 L151.1,126.9 L152.8,127.3 L154.4,128.0 L157.0,129.5 L157.8,130.1 L158.7,131.0 L162.0,135.4 L163.7,137.2 L165.4,138.6 L168.8,141.1 L170.5,142.5 L171.3,142.9 L172.2,143.1 L174.7,142.9 L177.3,142.6 L178.1,142.3 L178.9,141.9 L180.6,140.7 L183.2,138.8 L184.9,137.2 L186.6,135.4 L188.2,133.3 L189.9,130.8 L191.6,127.7 L192.5,125.6 L193.3,123.1 L197.5,108.3 L199.2,101.8 L200.9,94.1 L202.6,83.8 L206.0,60.6 L209.4,41.6 L210.2,37.7 L211.1,34.7 L212.7,30.0 L213.6,28.1 L214.4,26.7 L215.3,26.0 L216.1,26.3 L217.0,27.4 L217.8,29.1 L219.5,33.7 L220.4,36.9 L221.2,42.1 L222.9,54.3 L223.7,59.7 L227.1,78.4 L228.8,86.4 L230.5,93.6 L231.3,96.8 L232.2,99.6 L233.0,101.9 L234.7,105.9 L235.6,107.5 L236.4,109.0 L238.1,111.3 L239.8,113.2 L241.5,114.6 L243.2,115.7 L246.5,117.5 L248.2,118.6 L249.1,119.4 L250.8,121.3 L252.5,123.8 L254.2,126.6 L255.8,130.0 L256.7,132.0 L258.4,136.6 L261.8,147.6 L263.4,154.2 L266.0,165.2 L266.8,168.5 L268.5,174.1 L270.2,179.3 L272.7,186.2 L274.4,190.1 L277.8,197.0 L279.5,200.0 L280.3,201.2 L281.2,202.3 L282.0,203.0 L282.9,203.5 L285.4,204.6 L288.0,205.4 L289.6,205.9 L292.2,206.3 L293.9,206.5 L304.0,206.9 L317.5,207.3 L331.0,207.4 L345.8,207.5" fill="none" stroke="#f29c3c" stroke-width="1.4" stroke-linejoin="round" stroke-linecap="round" />
<path d="M119.0,155.8 L121.5,157.9 L124.9,160.5 L131.6,165.3 L132.5,165.8 L133.3,166.0 L135.0,166.1 L140.1,166.3 L140.9,166.2 L141.8,166.0 L143.5,165.0 L145.1,163.6 L147.7,161.2 L149.4,159.1 L151.1,156.4 L153.6,151.6 L155.3,148.2 L157.0,143.9 L160.4,134.9 L164.6,125.3 L165.4,123.7 L166.3,122.3 L167.1,121.4 L168.0,121.0 L168.8,120.7 L170.5,120.4 L171.3,120.4 L172.2,120.7 L173.0,121.2 L176.4,123.5 L178.1,125.0 L181.5,128.2 L183.2,129.7 L187.4,132.7 L189.1,133.6 L189.9,133.9 L192.5,134.5 L195.0,135.0 L197.5,135.2 L199.2,135.2 L200.9,134.7 L202.6,133.8 L204.3,132.7 L205.1,132.1 L206.0,131.2 L207.7,129.0 L208.5,127.6 L209.4,125.9 L210.2,123.6 L211.1,120.9 L213.6,111.0 L214.4,106.9 L216.1,97.2 L217.0,91.2 L219.5,67.6 L220.4,61.1 L222.0,49.8 L223.7,40.2 L224.6,36.4 L225.4,33.7 L227.1,29.2 L228.0,27.4 L228.8,26.3 L229.6,26.0 L230.5,26.6 L231.3,28.0 L232.2,29.9 L233.9,34.7 L234.7,38.7 L235.6,44.2 L237.3,56.4 L239.8,73.1 L242.3,88.5 L244.0,97.4 L244.9,100.6 L245.7,103.2 L246.5,105.4 L247.4,107.3 L248.2,108.9 L249.1,110.3 L250.8,112.5 L253.3,115.3 L255.0,117.0 L261.8,122.9 L266.8,127.9 L268.5,129.8 L269.4,130.9 L271.1,133.5 L271.9,135.3 L273.6,139.4 L277.0,149.4 L278.7,155.3 L282.0,168.5 L285.4,180.8 L287.1,186.4 L288.0,188.6 L289.6,192.2 L291.3,195.4 L293.0,198.3 L294.7,200.7 L295.6,201.7 L296.4,202.5 L297.2,203.1 L298.9,203.8 L301.5,204.7 L304.0,205.4 L306.5,206.0 L310.8,206.5 L320.9,207.0 L333.6,207.4 L345.8,207.5" fill="none" stroke="#e62e2e" stroke-width="1.4" stroke-linejoin="round" stroke-linecap="round" />
<path d="M136.5,165.0 L139.1,166.5 L140.8,167.4 L142.4,168.2 L145.8,169.5 L147.5,170.1 L148.4,170.3 L150.0,170.2 L151.7,170.0 L153.4,169.6 L156.0,168.7 L157.7,167.9 L158.5,167.3 L160.2,165.9 L162.7,163.1 L163.6,162.0 L164.4,160.8 L166.1,157.5 L168.6,151.8 L170.3,147.6 L172.0,142.9 L176.2,130.2 L179.6,118.7 L181.3,113.6 L182.2,111.6 L184.7,106.7 L185.5,105.3 L186.4,104.1 L187.2,103.3 L188.1,103.0 L188.9,103.0 L189.8,103.2 L191.5,103.8 L194.0,105.1 L194.8,105.8 L196.5,107.5 L199.9,111.7 L201.6,113.6 L205.8,117.0 L207.5,118.0 L208.4,118.4 L210.9,119.1 L212.6,119.5 L214.3,119.6 L215.1,119.6 L216.0,119.3 L216.8,118.8 L217.6,118.2 L219.3,116.5 L221.0,114.5 L221.9,113.3 L222.7,111.7 L224.4,107.9 L227.8,99.0 L229.5,93.4 L230.3,90.0 L231.2,85.9 L232.0,79.9 L233.7,65.9 L236.2,49.1 L237.9,39.5 L238.8,35.8 L239.6,33.2 L241.3,28.8 L242.2,27.1 L243.0,26.2 L243.8,26.1 L244.7,26.9 L245.5,28.3 L246.4,30.3 L247.2,32.7 L248.1,35.4 L248.9,39.8 L251.4,57.6 L257.4,92.4 L258.2,97.0 L259.1,100.7 L260.7,107.1 L261.6,109.8 L262.4,112.1 L263.3,113.7 L264.1,115.0 L265.0,116.1 L267.5,119.1 L284.4,140.9 L289.5,148.2 L292.0,152.3 L293.7,155.6 L294.5,157.6 L298.8,169.4 L302.1,178.5 L303.8,182.9 L305.5,186.9 L306.4,188.7 L310.6,196.6 L312.3,199.3 L314.0,201.6 L314.8,202.4 L315.7,203.1 L317.4,203.8 L320.7,205.0 L325.0,206.1 L328.3,206.5 L335.1,207.1 L341.0,207.4 L345.8,207.5" fill="none" stroke="#a45656" stroke-width="1.4" stroke-linejoin="round" stroke-linecap="round" />
<path d="M153.1,167.6 L154.8,168.4 L156.5,169.0 L158.2,169.4 L159.0,169.5 L163.2,169.4 L166.6,169.0 L167.5,168.7 L170.0,165.7 L172.5,162.2 L174.2,159.5 L175.9,156.2 L177.6,151.9 L183.5,134.6 L186.9,123.8 L191.1,108.8 L194.5,97.4 L196.2,92.0 L198.7,84.6 L200.4,80.3 L201.3,78.6 L202.9,75.8 L203.8,74.6 L204.6,73.7 L205.5,73.2 L206.3,73.2 L207.2,73.5 L208.9,74.5 L210.6,75.9 L211.4,76.8 L212.2,78.1 L214.8,82.7 L215.6,84.1 L219.8,90.2 L221.5,92.3 L222.4,93.2 L224.1,94.7 L225.8,96.1 L226.6,96.5 L227.4,96.8 L228.3,96.9 L230.8,97.1 L231.7,97.0 L232.5,96.6 L233.4,95.9 L234.2,95.1 L235.9,93.2 L236.7,91.7 L237.6,89.7 L238.4,87.3 L242.7,74.8 L247.7,59.0 L249.4,53.2 L250.3,49.9 L252.8,38.9 L253.6,35.7 L254.5,33.3 L255.3,31.2 L256.2,29.3 L257.0,27.6 L257.9,26.4 L258.7,26.0 L259.6,26.4 L260.4,27.7 L261.2,29.5 L262.9,34.2 L263.8,37.9 L266.3,55.0 L268.0,65.0 L272.2,89.1 L273.9,97.8 L276.5,108.5 L279.0,117.7 L280.7,122.7 L282.4,126.5 L284.1,129.7 L285.8,132.4 L287.4,134.8 L290.0,138.0 L291.7,139.9 L293.4,141.6 L299.3,146.9 L301.8,149.4 L306.9,154.9 L308.6,157.0 L310.3,159.2 L311.9,161.7 L312.8,163.2 L318.7,175.3 L323.8,184.3 L327.2,189.7 L333.1,197.8 L335.6,200.8 L337.3,202.3 L338.1,203.0 L340.7,204.5 L342.4,205.4 L344.1,206.0 L345.8,206.4" fill="none" stroke="#8c2424" stroke-width="1.4" stroke-linejoin="round" stroke-linecap="round" />
<path d="M49.1,467.7 L51.7,467.6 L55.0,467.4 L58.3,467.0 L62.3,466.4 L63.6,466.1 L64.9,465.6 L68.2,463.8 L70.2,462.4 L72.2,460.7 L75.5,457.4 L77.5,455.1 L78.8,453.3 L80.1,451.1 L80.8,449.7 L82.1,446.5 L83.4,442.7 L84.1,440.4 L86.7,429.5 L88.7,419.8 L90.0,411.8 L91.3,401.5 L92.0,395.2 L94.0,371.2 L96.6,348.4 L97.9,334.4 L98.6,328.9 L99.3,324.4 L101.9,309.4 L102.6,306.5 L103.9,302.3 L104.5,300.7 L105.2,299.4 L105.9,298.4 L106.5,297.5 L107.8,296.1 L110.5,293.8 L113.8,290.7 L115.1,289.7 L115.8,289.4 L116.4,289.2 L117.1,289.2 L117.7,289.5 L118.4,290.2 L119.1,291.1 L120.4,293.4 L121.0,295.0 L121.7,297.8 L125.7,318.2 L128.3,335.3 L130.9,351.4 L132.9,364.9 L134.9,373.7 L135.6,375.9 L136.2,377.4 L138.2,379.9 L139.5,381.1 L140.8,381.8 L141.5,381.9 L142.2,382.0 L143.5,381.6 L144.8,381.0 L147.4,379.4 L149.4,377.7 L151.4,375.6 L152.7,373.8 L154.0,371.6 L155.4,369.1 L160.0,358.8 L162.6,351.5 L163.9,348.4 L164.6,347.4 L165.9,345.6 L167.2,344.2 L167.9,343.6 L168.6,343.2 L169.2,343.0 L169.9,343.1 L170.5,343.3 L171.2,343.7 L172.5,344.9 L173.8,346.5 L174.5,347.8 L175.2,349.8 L177.8,360.9 L181.1,378.0 L183.7,391.1 L186.4,403.6 L189.0,415.1 L190.3,420.5 L191.7,425.1 L193.6,430.6 L195.0,433.6 L195.6,434.9 L196.9,437.0 L198.3,438.8 L200.2,441.0 L202.2,442.9 L206.2,446.4 L207.5,447.4 L208.8,448.2 L210.1,448.5 L214.1,448.7 L214.8,448.6 L216.1,448.1 L218.1,446.8 L218.7,446.2 L219.4,445.3 L220.8,442.9" fill="none" stroke="#2b2b2b" stroke-width="1.4" stroke-linejoin="round" stroke-linecap="round" />
<path d="M49.1,467.7 L61.6,467.5 L75.5,466.8 L80.8,466.2 L86.1,465.3 L87.4,465.0 L88.7,464.5 L90.0,463.9 L91.3,462.9 L92.7,461.7 L94.0,460.1 L94.6,459.2 L95.3,457.8 L96.6,453.7 L98.6,446.0 L101.2,433.8 L103.2,423.0 L105.9,406.0 L107.2,399.2 L108.5,394.1 L111.8,383.9 L113.1,379.3 L121.7,343.4 L123.0,337.6 L125.0,328.2 L127.0,318.2 L129.6,303.6 L130.3,300.5 L132.3,293.5 L132.9,291.5 L133.6,290.1 L134.2,289.3 L134.9,289.4 L135.6,290.3 L136.2,291.9 L138.2,298.5 L139.5,303.8 L140.8,310.6 L142.8,322.3 L145.5,341.0 L148.1,357.6 L150.1,367.5 L151.4,373.4 L152.1,375.9 L152.7,377.8 L153.4,378.9 L154.7,380.2 L155.4,380.7 L156.7,381.3 L157.3,381.4 L159.3,381.3 L162.6,380.5 L164.6,379.7 L165.9,378.9 L166.6,378.1 L167.2,377.0 L169.9,371.7 L170.5,370.6 L175.8,363.6 L177.1,361.7 L179.1,357.8 L179.8,356.7 L180.4,356.2 L182.4,355.4 L183.7,355.2 L184.4,355.3 L185.1,356.1 L185.7,357.3 L186.4,358.9 L188.4,364.2 L189.7,368.3 L192.3,377.8 L198.3,402.0 L199.6,406.2 L201.6,411.9 L202.9,416.0 L207.5,432.1 L208.8,435.8 L210.1,439.1 L211.5,442.2 L212.8,444.9 L214.1,447.2 L214.8,448.2 L216.7,450.4 L218.7,452.2 L220.0,453.3 L221.4,454.2 L222.7,454.8 L224.0,455.3 L226.6,456.0 L228.6,456.3 L230.6,456.4 L231.3,456.3 L231.9,456.0 L232.6,455.4 L233.9,454.1" fill="none" stroke="#2d2d96" stroke-width="1.4" stroke-linejoin="round" stroke-linecap="round" />
<path d="M49.1,467.7 L59.0,467.6 L69.6,467.4 L92.0,466.6 L97.9,466.1 L103.2,465.5 L105.2,465.0 L105.9,464.3 L106.5,463.1 L107.2,461.4 L109.8,453.7 L111.1,449.1 L113.1,441.5 L118.4,418.3 L119.7,413.3 L120.4,411.2 L122.4,406.1 L127.0,396.0 L132.9,381.7 L134.2,378.2 L136.2,372.2 L137.5,367.8 L138.9,362.9 L140.2,357.1 L140.8,353.6 L141.5,349.5 L142.8,339.9 L143.5,334.1 L145.5,313.5 L146.1,308.2 L147.4,300.0 L148.8,292.9 L149.4,290.6 L150.1,289.3 L150.7,289.4 L151.4,290.3 L152.1,291.9 L152.7,293.9 L154.7,300.9 L156.0,307.1 L158.0,318.2 L159.3,326.9 L161.3,341.0 L163.3,353.2 L164.6,360.4 L166.6,369.6 L167.9,374.9 L168.6,377.1 L171.2,384.3 L171.9,385.8 L172.5,387.1 L173.2,387.8 L173.8,388.1 L175.2,388.1 L177.1,387.8 L177.8,387.5 L178.5,387.1 L179.8,386.0 L181.1,384.4 L183.7,380.7 L186.4,376.5 L187.7,374.8 L188.4,374.1 L189.7,373.1 L191.7,371.8 L193.0,371.3 L193.6,371.3 L194.3,371.4 L195.6,371.9 L196.3,372.4 L197.6,373.5 L198.3,374.6 L198.9,376.5 L202.2,386.4 L204.2,393.1 L206.2,401.3 L208.8,410.6 L209.5,413.5 L212.1,427.4 L212.8,430.3 L213.4,432.6 L214.8,437.0 L216.1,441.0 L217.4,444.4 L218.7,447.3 L220.0,449.4 L221.4,451.2 L222.7,452.8 L224.7,454.7 L226.0,455.9 L228.0,457.4 L231.9,460.0 L233.9,461.1 L235.2,461.7 L236.5,462.0 L239.2,462.2 L243.1,462.2 L243.8,462.2 L244.5,462.0 L245.8,461.3 L247.1,460.4" fill="none" stroke="#2a2ae8" stroke-width="1.4" stroke-linejoin="round" stroke-linecap="round" />
<path d="M49.1,467.7 L85.4,467.5 L102.6,467.3 L107.8,467.1 L112.5,466.8 L115.1,466.4 L115.8,466.2 L116.4,465.9 L117.1,465.4 L117.7,464.8 L118.4,464.0 L119.1,462.2 L119.7,459.6 L121.0,453.3 L125.0,436.6 L126.3,430.0 L129.0,415.5 L130.3,409.1 L132.3,400.8 L134.2,393.6 L136.2,387.7 L138.2,382.9 L142.2,374.3 L146.1,366.5 L148.8,360.3 L150.7,355.2 L153.4,347.9 L154.7,343.5 L155.4,340.6 L156.0,336.4 L158.7,312.5 L160.0,301.8 L160.6,298.3 L162.0,293.4 L162.6,291.5 L163.3,290.0 L163.9,289.3 L164.6,289.4 L165.3,290.4 L165.9,292.1 L167.9,299.0 L169.2,304.3 L170.5,310.9 L172.5,322.2 L175.2,340.9 L177.1,353.9 L178.5,361.7 L180.4,371.8 L181.8,376.6 L182.4,378.8 L183.1,380.5 L183.7,381.7 L185.7,383.2 L187.0,383.9 L187.7,384.1 L189.0,384.3 L189.7,384.2 L190.3,383.6 L193.0,379.7 L193.6,379.1 L195.0,378.3 L196.3,377.7 L198.3,377.1 L200.2,376.8 L202.2,376.6 L203.5,376.6 L204.2,376.7 L207.5,377.8 L210.1,378.5 L210.8,378.8 L211.5,379.4 L212.1,380.6 L212.8,382.1 L214.8,387.8 L217.4,398.0 L220.0,407.4 L221.4,413.1 L223.3,423.4 L224.0,426.4 L226.0,433.7 L227.3,438.0 L228.6,441.9 L229.9,445.1 L231.3,447.6 L233.9,451.8 L235.2,453.6 L236.5,455.1 L237.9,456.4 L239.2,457.5 L243.1,460.1 L246.4,461.8 L248.4,462.5 L249.7,462.8 L255.0,463.6 L259.0,463.9" fill="none" stroke="#2aa3a8" stroke-width="1.4" stroke-linejoin="round" stroke-linecap="round" />
<path d="M49.1,467.3 L122.4,467.3 L124.3,466.9 L126.3,466.0 L128.3,464.5 L129.6,463.2 L130.3,461.0 L131.6,452.3 L132.9,439.0 L134.2,427.1 L136.2,411.6 L138.9,392.9 L140.2,385.0 L141.5,378.3 L142.8,372.3 L143.5,369.8 L144.1,367.8 L146.1,363.2 L147.4,360.8 L148.1,359.9 L148.8,359.2 L150.1,358.5 L152.1,357.8 L154.0,357.3 L158.0,356.8 L159.3,356.4 L160.6,355.9 L162.0,355.1 L162.6,354.3 L163.3,353.1 L163.9,351.7 L166.6,345.2 L167.2,343.3 L167.9,341.0 L168.6,337.9 L169.2,333.3 L170.5,322.7 L171.2,318.3 L173.2,305.6 L174.5,298.8 L175.2,296.4 L176.5,292.9 L177.1,291.3 L177.8,290.1 L178.5,289.4 L179.1,289.2 L179.8,289.6 L180.4,290.6 L181.1,291.9 L181.8,293.5 L183.1,297.3 L183.7,300.2 L184.4,304.0 L189.7,339.2 L191.0,347.3 L193.6,360.6 L194.3,363.4 L195.0,365.6 L195.6,367.1 L196.9,369.1 L197.6,369.9 L198.3,370.5 L198.9,371.0 L199.6,371.3 L202.9,371.7 L211.5,372.4 L212.8,372.6 L213.4,372.8 L214.1,373.3 L215.4,374.9 L219.4,380.8 L220.7,383.4 L221.4,385.3 L224.0,395.8 L224.7,398.1 L228.6,410.6 L230.6,417.8 L231.9,421.9 L233.9,427.5 L236.5,434.2 L241.2,444.8 L242.5,447.5 L243.8,449.9 L245.8,452.9 L248.4,455.8 L251.1,458.4 L253.7,460.4 L255.7,461.6 L257.0,462.1 L260.3,463.2 L264.9,464.4 L268.9,465.1 L272.3,465.3" fill="none" stroke="#2c9c2c" stroke-width="1.4" stroke-linejoin="round" stroke-linecap="round" />
<path d="M49.1,465.9 L82.8,466.3 L129.0,466.4 L131.6,466.3 L134.2,466.0 L136.9,465.5 L138.9,465.0 L139.5,463.6 L140.2,460.5 L141.5,452.3 L142.2,447.6 L146.8,408.6 L149.4,384.8 L150.1,379.7 L151.4,371.6 L152.7,364.7 L154.0,359.4 L155.4,355.1 L156.7,351.6 L157.3,350.5 L158.0,350.1 L158.7,350.1 L160.0,350.5 L162.0,351.4 L162.6,352.0 L164.6,354.6 L165.3,355.1 L165.9,355.1 L166.6,354.9 L167.2,354.5 L168.6,353.4 L169.9,352.0 L171.2,350.0 L173.2,346.3 L174.5,343.3 L177.1,336.5 L178.5,332.7 L180.4,325.3 L185.1,306.1 L186.4,301.5 L188.4,295.4 L189.0,293.8 L189.7,292.5 L191.0,290.8 L192.3,289.6 L193.0,289.3 L193.6,289.2 L194.3,289.7 L195.0,290.5 L195.6,291.7 L196.9,294.6 L197.6,297.1 L198.3,301.0 L200.2,316.3 L204.2,343.2 L205.5,350.8 L207.5,361.0 L208.2,363.6 L208.8,365.3 L209.5,366.4 L210.1,367.2 L212.8,369.7 L216.7,374.4 L218.1,375.6 L220.7,377.7 L222.0,379.0 L224.0,381.9 L228.0,388.7 L231.9,396.6 L235.9,405.4 L240.5,416.4 L246.4,431.8 L251.7,443.9 L254.4,449.4 L255.7,451.6 L256.3,452.5 L259.0,455.5 L261.6,458.1 L264.3,460.1 L265.6,460.9 L266.9,461.6 L272.2,463.6 L274.8,464.4 L277.5,465.1 L281.4,465.8 L283.4,466.0 L285.4,466.1" fill="none" stroke="#8f8f2e" stroke-width="1.4" stroke-linejoin="round" stroke-linecap="round" />
<path d="M49.1,464.4 L65.6,465.0 L82.8,465.4 L100.6,465.7 L119.7,465.9 L135.6,465.8 L146.8,465.7 L147.4,465.4 L148.1,464.7 L148.8,463.6 L149.4,462.1 L150.1,460.3 L151.4,455.9 L152.1,451.8 L153.4,438.6 L154.7,427.7 L156.7,412.8 L160.0,389.5 L161.3,381.0 L163.3,370.2 L164.6,364.0 L165.3,361.5 L165.9,359.5 L167.2,355.8 L167.9,354.2 L168.6,353.1 L169.2,352.6 L169.9,352.8 L170.5,353.3 L172.5,355.8 L173.2,356.4 L175.2,357.8 L176.5,358.5 L177.8,358.9 L179.1,358.9 L180.4,358.6 L181.8,358.0 L185.1,356.2 L187.0,354.5 L193.6,347.2 L195.0,345.5 L195.6,344.3 L196.3,342.9 L196.9,340.9 L198.3,334.8 L201.6,316.1 L203.5,302.8 L204.2,299.2 L204.9,296.4 L206.2,292.4 L206.8,290.7 L207.5,289.6 L208.2,289.2 L208.8,289.6 L209.5,290.7 L210.1,292.3 L211.5,296.4 L212.1,299.6 L214.8,320.0 L217.4,336.7 L218.7,344.0 L219.4,347.2 L221.4,355.4 L222.7,359.8 L223.3,361.7 L224.7,364.6 L226.6,368.3 L228.0,371.3 L229.3,375.0 L233.9,389.2 L235.2,392.6 L237.2,396.8 L243.1,408.0 L245.8,413.3 L253.0,427.7 L258.3,438.7 L260.3,442.6 L265.6,451.8 L267.6,454.8 L268.9,456.5 L270.9,458.4 L274.2,461.0 L276.8,462.6 L278.1,463.3 L279.4,463.8 L280.8,464.2 L282.7,464.6 L288.0,465.5 L292.6,465.9 L296.3,466.1" fill="none" stroke="#f2e030" stroke-width="1.4" stroke-linejoin="round" stroke-linecap="round" />
<path d="M49.1,461.5 L57.0,461.2 L65.6,461.0 L82.1,461.0 L86.7,461.1 L91.3,461.3 L96.6,461.7 L115.1,463.6 L123.0,464.2 L132.9,464.6 L147.4,464.9 L154.7,465.0 L156.0,464.9 L158.0,464.3 L160.0,463.2 L160.6,462.1 L161.3,460.0 L162.6,454.1 L163.3,449.9 L164.6,438.3 L167.2,417.2 L168.6,407.5 L169.9,399.7 L173.2,384.3 L175.8,370.4 L176.5,367.3 L178.5,360.1 L179.1,358.0 L179.8,356.3 L180.4,355.3 L181.1,355.2 L183.1,355.4 L185.1,356.1 L185.7,356.6 L188.4,359.4 L189.0,359.9 L190.3,360.5 L191.7,361.1 L193.0,361.5 L194.3,361.7 L195.6,361.6 L196.9,361.4 L198.9,361.0 L200.2,360.5 L200.9,360.2 L201.6,359.7 L202.9,358.5 L204.2,357.1 L205.5,355.3 L206.8,352.6 L208.2,349.3 L210.8,341.5 L212.1,337.0 L214.1,329.0 L216.1,320.0 L216.7,316.3 L218.7,303.0 L219.4,299.2 L220.0,296.4 L221.4,292.4 L222.0,290.7 L222.7,289.6 L223.3,289.2 L224.0,289.6 L224.7,290.7 L225.3,292.4 L226.6,296.4 L227.3,299.1 L228.6,306.7 L234.6,347.3 L235.2,350.8 L236.5,356.5 L237.9,361.4 L239.2,365.8 L242.5,376.3 L244.5,382.2 L246.4,387.7 L247.8,391.0 L249.1,394.1 L251.1,398.3 L253.7,403.5 L257.7,410.8 L265.6,424.5 L267.6,428.3 L272.2,437.9 L275.5,444.4 L278.8,451.2 L280.8,454.7 L282.1,456.6 L282.7,457.4 L284.1,458.5 L287.4,460.8 L290.7,462.7 L293.3,463.8 L295.9,464.5 L301.2,465.4 L305.8,465.9 L309.5,466.1" fill="none" stroke="#f29c3c" stroke-width="1.4" stroke-linejoin="round" stroke-linecap="round" />
<path d="M49.1,458.1 L53.1,457.5 L57.7,457.0 L63.0,456.8 L67.6,456.9 L71.5,457.3 L81.4,459.0 L87.4,459.6 L96.0,460.3 L105.9,460.9 L121.7,461.7 L127.6,462.0 L130.3,462.3 L136.2,463.4 L138.9,463.8 L150.7,464.4 L158.7,464.6 L162.6,464.5 L164.6,464.2 L166.6,463.7 L167.2,463.3 L168.6,462.4 L169.9,461.0 L170.5,459.9 L171.2,458.4 L172.5,454.5 L173.2,452.3 L173.8,449.5 L176.5,434.4 L179.1,421.1 L180.4,413.2 L182.4,399.9 L185.1,379.9 L186.4,371.1 L187.7,365.4 L188.4,363.1 L189.0,361.1 L189.7,359.7 L191.0,358.1 L191.7,357.4 L192.3,357.0 L193.0,356.8 L195.0,357.0 L197.6,357.9 L202.2,359.9 L208.2,363.1 L211.5,364.6 L213.4,365.2 L214.8,365.3 L215.4,365.1 L216.7,364.4 L218.7,362.7 L219.4,362.0 L220.0,361.2 L220.7,359.9 L221.4,358.4 L223.3,352.8 L224.0,350.6 L225.3,345.0 L229.3,326.6 L230.6,320.0 L233.2,303.4 L233.9,299.7 L234.6,296.9 L235.9,292.8 L236.5,291.1 L237.2,289.8 L237.9,289.2 L238.5,289.5 L239.2,290.5 L239.8,292.0 L241.2,296.0 L241.8,298.6 L242.5,302.1 L245.1,321.0 L247.8,342.5 L248.4,347.2 L250.4,359.4 L251.7,366.2 L252.4,369.0 L254.4,375.6 L256.3,380.9 L258.3,385.4 L264.3,398.1 L266.9,403.3 L270.9,410.8 L278.8,424.7 L285.4,438.1 L287.4,441.8 L293.3,452.5 L295.3,455.7 L297.3,458.3 L298.6,459.6 L299.9,460.8 L302.5,462.8 L304.5,463.8 L307.8,464.9 L310.5,465.5 L313.1,465.8 L324.8,466.1" fill="none" stroke="#e62e2e" stroke-width="1.4" stroke-linejoin="round" stroke-linecap="round" />
<path d="M49.1,451.6 L53.1,450.8 L57.7,450.2 L63.0,450.0 L67.6,450.0 L69.6,450.2 L72.2,450.6 L82.1,452.7 L94.6,454.5 L102.6,455.4 L119.1,456.9 L128.3,458.1 L140.8,459.4 L152.1,461.0 L162.6,462.3 L168.6,462.8 L175.8,462.8 L176.5,462.6 L177.1,462.2 L177.8,461.5 L179.1,459.7 L181.1,456.0 L181.8,454.2 L182.4,452.0 L185.1,440.9 L189.0,425.2 L190.3,419.1 L193.0,403.4 L193.6,399.9 L194.3,397.0 L196.3,389.8 L196.9,387.1 L197.6,383.8 L198.3,379.1 L199.6,367.0 L200.2,362.6 L200.9,358.7 L201.6,355.9 L202.2,354.2 L203.5,351.5 L204.2,350.7 L204.9,350.3 L205.5,350.3 L206.2,350.5 L207.5,351.2 L210.8,353.8 L217.4,358.2 L222.0,360.8 L224.0,361.7 L225.3,362.0 L226.0,362.0 L228.0,361.9 L229.9,361.6 L231.3,361.3 L231.9,361.0 L232.6,360.5 L233.2,359.7 L235.2,356.8 L236.5,354.1 L237.9,350.5 L239.2,346.3 L240.5,341.0 L244.5,321.4 L245.8,314.6 L248.4,299.1 L249.1,296.4 L250.4,292.4 L251.1,290.8 L251.7,289.6 L252.4,289.2 L253.0,289.6 L253.7,290.7 L254.4,292.3 L255.7,296.4 L256.3,299.5 L257.7,309.1 L261.6,342.1 L263.6,357.2 L264.9,366.1 L265.6,369.5 L266.9,374.3 L268.9,380.0 L270.9,384.5 L276.8,397.0 L279.4,402.3 L283.4,409.8 L293.3,427.1 L303.2,445.5 L306.5,451.9 L307.8,454.1 L309.1,456.0 L311.8,459.5 L313.1,460.8 L314.4,461.7 L317.7,463.2 L321.0,464.2 L323.7,464.6 L328.9,465.1 L333.6,465.4 L338.0,465.5" fill="none" stroke="#a45656" stroke-width="1.4" stroke-linejoin="round" stroke-linecap="round" />
<path d="M49.1,441.0 L51.7,440.1 L54.4,439.4 L57.0,438.8 L59.7,438.4 L62.3,438.2 L64.3,438.2 L66.9,438.3 L70.2,438.7 L76.2,439.8 L78.8,440.4 L80.8,441.0 L85.4,442.9 L88.0,443.8 L90.7,444.2 L97.9,444.9 L101.2,445.3 L103.9,446.0 L109.8,448.0 L112.5,448.7 L118.4,449.7 L136.2,452.0 L140.8,452.8 L143.5,453.5 L149.4,455.5 L158.7,458.3 L165.3,460.1 L169.9,461.2 L176.5,462.4 L179.8,462.8 L183.1,462.8 L187.0,462.5 L188.4,462.2 L189.0,461.9 L189.7,461.3 L191.0,459.7 L193.0,456.5 L193.6,455.1 L194.3,453.1 L195.6,447.9 L198.3,436.3 L199.6,430.0 L200.9,422.8 L202.2,413.7 L204.2,396.8 L206.2,377.8 L207.5,368.1 L208.2,364.2 L209.5,357.4 L210.8,351.4 L211.5,348.6 L212.1,346.4 L212.8,345.0 L214.1,343.2 L214.8,342.5 L216.1,341.4 L216.7,341.1 L217.4,341.0 L218.1,341.2 L218.7,341.8 L221.4,345.6 L222.0,346.3 L224.0,347.8 L229.9,351.5 L234.6,355.5 L236.5,356.8 L239.8,358.5 L241.2,359.0 L242.5,359.3 L244.5,359.3 L246.4,359.1 L248.4,358.8 L249.1,358.4 L249.7,357.6 L250.4,356.5 L251.7,354.0 L252.4,352.3 L253.7,348.0 L255.7,340.5 L258.3,329.0 L261.0,316.3 L262.3,308.6 L263.6,299.7 L264.3,296.4 L265.6,291.6 L266.2,289.9 L266.9,289.2 L267.6,289.6 L268.2,290.7 L268.9,292.4 L270.2,296.4 L270.9,299.0 L271.5,302.4 L272.8,310.9 L274.2,320.3 L276.8,344.0 L278.8,359.5 L280.1,368.7 L281.4,376.0 L283.4,385.1 L284.1,387.6 L285.4,391.7 L287.4,396.6 L289.3,400.6 L290.7,403.0 L294.0,408.1 L297.3,413.4 L303.2,423.4 L311.1,438.3 L313.8,443.0 L318.4,450.4 L322.3,456.1 L323.7,457.9 L325.0,459.2 L327.0,460.6 L328.9,461.7 L331.6,462.8 L334.9,463.7 L337.5,464.2 L342.1,464.6 L345.6,464.8" fill="none" stroke="#8c2424" stroke-width="1.4" stroke-linejoin="round" stroke-linecap="round" />
<path d="M50.3,678.4 L51.1,684.2 L51.8,688.1 L53.3,693.2 L54.0,695.5 L54.7,697.4 L55.5,698.8 L56.2,699.9 L57.3,701.3 L58.7,702.9 L61.3,705.1 L64.2,706.8 L65.7,707.4 L68.3,707.8 L70.5,708.0 L71.6,707.9 L73.4,707.0 L74.5,706.3 L76.3,704.8 L79.2,701.9 L80.0,701.4 L80.3,701.2 L80.7,701.2 L81.4,701.6 L82.9,702.6 L84.4,704.0 L84.7,704.2 L85.1,704.3 L85.8,704.1 L86.9,703.5 L88.7,702.1 L90.9,699.5 L93.1,697.2 L93.9,696.6 L94.2,696.5 L94.6,696.5 L95.0,696.6 L95.7,697.1 L97.2,698.5 L99.0,701.6 L100.1,703.1 L101.9,705.3 L103.4,706.6 L105.6,708.1 L106.7,708.5 L107.4,708.5 L108.1,708.4 L110.0,707.9 L111.4,707.0 L114.0,705.0 L115.5,703.6 L116.6,702.4 L122.4,694.1 L123.9,691.5 L125.0,689.0 L125.7,687.1 L126.8,683.3 L129.0,673.7 L131.6,659.1 L133.8,647.9 L134.5,645.5 L135.2,643.9 L135.9,642.8 L136.3,642.7 L136.7,643.3 L137.0,645.0 L137.4,647.4 L138.9,658.9 L140.3,671.6 L141.4,679.0 L143.3,688.4 L145.8,699.5 L147.3,705.4 L148.4,709.3 L149.5,712.6 L150.6,715.5 L152.0,718.6 L153.1,720.5 L154.6,722.5 L155.7,723.6 L157.5,724.9 L159.0,725.7 L160.8,726.2 L164.5,727.1 L168.9,728.0 L174.0,728.8 L179.9,729.6 L185.7,730.3 L195.2,731.1 L208.4,731.8 L225.6,732.0 L243.3,732.1" fill="none" stroke="#1a14dc" stroke-width="1.6" stroke-linejoin="round" stroke-linecap="round" />
<path d="M50.3,660.9 L51.1,668.7 L51.4,671.8 L52.2,676.5 L54.0,685.5 L55.1,689.5 L55.8,691.3 L56.6,692.8 L58.0,695.1 L61.7,699.7 L62.8,700.7 L64.2,701.9 L65.7,702.7 L68.3,703.6 L70.1,704.0 L70.8,704.1 L71.6,703.9 L73.4,703.1 L74.1,702.5 L75.9,700.8 L77.8,698.5 L79.2,697.0 L80.0,696.4 L80.3,696.3 L80.7,696.3 L81.1,696.4 L81.8,696.9 L82.9,697.8 L84.4,699.4 L84.7,699.7 L85.1,699.8 L85.8,699.7 L86.9,699.2 L88.7,698.0 L89.5,697.3 L90.9,695.5 L93.1,693.3 L93.9,692.8 L94.6,692.7 L95.0,692.8 L95.7,693.3 L97.2,694.8 L99.0,698.1 L100.8,700.8 L102.3,702.8 L103.4,703.9 L105.2,705.2 L105.9,705.6 L106.7,705.8 L107.4,705.9 L108.1,705.8 L109.2,705.5 L110.3,705.0 L111.4,704.2 L112.9,702.6 L115.1,698.5 L117.3,694.7 L118.4,692.6 L119.8,689.3 L121.3,685.7 L124.6,675.7 L125.7,671.5 L126.8,665.9 L128.6,652.0 L130.1,641.9 L131.6,632.4 L133.4,621.5 L133.8,619.6 L134.1,618.3 L134.5,617.3 L135.6,615.3 L135.9,614.9 L136.3,614.8 L136.7,615.3 L137.0,616.5 L137.4,618.2 L138.1,622.5 L138.9,627.8 L139.6,634.8 L141.8,660.8 L142.9,672.0 L144.0,681.1 L145.8,692.2 L147.3,699.5 L148.4,704.3 L149.5,708.4 L150.6,711.9 L152.0,715.7 L153.5,718.8 L155.3,721.9 L156.8,723.9 L157.9,724.9 L159.0,725.7 L160.8,726.3 L164.8,727.2 L169.6,728.1 L174.7,728.9 L180.6,729.7 L186.4,730.3 L195.6,731.1 L208.4,731.8 L225.6,732.0 L243.3,732.1" fill="none" stroke="#1a14dc" stroke-width="1.6" stroke-linejoin="round" stroke-linecap="round" />
<path d="M50.3,643.4 L51.1,653.2 L52.2,663.5 L54.0,675.6 L55.1,680.8 L56.2,684.3 L56.9,686.1 L57.7,687.5 L61.7,694.0 L63.9,696.6 L65.0,697.6 L65.7,698.1 L68.3,699.5 L69.4,699.9 L70.1,700.0 L70.8,700.1 L71.6,700.0 L73.4,699.1 L74.1,698.5 L75.9,696.4 L78.1,693.3 L79.2,692.1 L80.0,691.5 L80.3,691.3 L80.7,691.3 L81.1,691.5 L81.8,692.0 L82.9,693.0 L84.4,694.9 L84.7,695.2 L85.1,695.3 L85.8,695.2 L86.9,694.9 L88.7,694.0 L89.5,693.3 L91.3,691.2 L93.1,689.4 L93.9,689.0 L94.6,688.8 L95.0,689.0 L95.7,689.5 L97.2,691.1 L99.0,694.6 L101.2,698.2 L102.3,699.9 L103.4,701.1 L105.2,702.5 L105.9,702.9 L106.7,703.2 L107.4,703.3 L108.1,703.2 L109.2,702.8 L110.3,702.3 L111.1,701.7 L111.8,701.0 L112.5,700.0 L112.9,699.3 L113.6,697.4 L115.1,693.0 L117.7,687.2 L118.8,684.3 L119.8,680.9 L120.9,677.0 L124.6,661.4 L126.1,653.8 L126.8,648.6 L128.6,628.5 L129.4,621.9 L130.8,610.7 L133.4,593.3 L133.8,591.4 L134.1,590.0 L134.5,589.2 L135.2,587.8 L135.6,587.3 L135.9,587.0 L136.3,587.0 L136.7,587.3 L137.0,588.0 L138.1,591.6 L138.5,593.6 L139.2,600.3 L140.0,609.3 L142.2,646.6 L143.3,662.3 L144.4,673.8 L145.8,684.8 L146.9,691.5 L148.4,699.3 L149.5,704.2 L150.6,708.4 L152.0,712.9 L153.5,716.6 L155.7,721.3 L156.4,722.7 L157.2,723.9 L158.3,725.1 L159.0,725.7 L160.5,726.2 L164.5,727.1 L169.2,728.1 L174.4,728.9 L180.2,729.7 L186.1,730.3 L195.6,731.1 L208.4,731.8 L225.6,732.0 L243.3,732.1" fill="none" stroke="#1a14dc" stroke-width="1.6" stroke-linejoin="round" stroke-linecap="round" />
<path d="M50.3,635.1 L51.1,646.0 L52.2,657.4 L54.0,670.9 L55.1,676.8 L56.2,680.7 L57.3,683.4 L61.7,691.4 L62.8,692.9 L63.9,694.2 L65.0,695.3 L65.7,695.9 L68.3,697.5 L69.4,698.0 L70.1,698.2 L70.8,698.2 L71.6,698.1 L73.4,697.3 L74.1,696.6 L76.3,693.8 L78.1,691.1 L79.2,689.8 L80.0,689.2 L80.3,689.0 L80.7,689.0 L81.4,689.4 L82.9,690.8 L84.4,692.7 L84.7,693.1 L85.1,693.2 L85.8,693.1 L87.3,692.7 L88.7,692.1 L89.5,691.4 L91.3,689.3 L93.1,687.6 L93.9,687.2 L94.6,687.0 L95.0,687.2 L95.7,687.7 L97.2,689.4 L99.0,692.9 L101.2,696.8 L102.3,698.5 L103.4,699.8 L105.2,701.3 L105.9,701.7 L106.7,702.0 L107.4,702.0 L108.1,701.9 L109.2,701.6 L110.3,701.1 L111.1,700.4 L112.2,699.1 L112.9,697.8 L113.3,696.8 L115.1,690.5 L118.0,683.0 L119.1,679.6 L120.6,674.1 L121.7,669.1 L125.0,652.9 L125.7,648.6 L126.4,643.6 L127.2,636.5 L128.6,617.6 L129.4,610.2 L130.8,598.3 L133.4,580.1 L133.8,578.1 L134.1,576.8 L134.5,576.0 L135.2,574.6 L135.6,574.2 L135.9,573.9 L136.3,573.9 L136.7,574.2 L137.0,574.6 L137.4,575.3 L138.1,577.1 L138.5,578.9 L139.2,585.9 L139.6,590.1 L140.3,601.7 L142.2,638.1 L143.3,656.2 L144.4,669.2 L145.8,681.4 L146.9,688.6 L148.4,696.9 L149.5,702.2 L150.6,706.7 L152.0,711.5 L153.5,715.5 L156.1,721.6 L157.2,723.7 L157.9,724.6 L158.6,725.4 L159.4,725.8 L160.8,726.3 L166.7,727.6 L171.4,728.4 L178.4,729.4 L185.3,730.2 L194.9,731.0 L208.0,731.8 L225.2,732.0 L243.3,732.1" fill="none" stroke="#1a14dc" stroke-width="1.6" stroke-linejoin="round" stroke-linecap="round" />
<path d="M50.3,633.0 L51.1,644.1 L52.2,655.8 L54.0,669.7 L55.1,675.7 L56.2,679.8 L57.3,682.5 L61.7,690.7 L62.4,691.8 L63.9,693.6 L65.0,694.8 L65.7,695.4 L68.3,697.0 L69.4,697.5 L70.1,697.7 L70.8,697.8 L71.6,697.6 L73.4,696.8 L74.1,696.1 L76.3,693.3 L78.1,690.5 L79.2,689.2 L80.0,688.6 L80.3,688.4 L80.7,688.4 L81.4,688.8 L82.9,690.2 L84.4,692.2 L84.7,692.5 L85.1,692.6 L85.8,692.6 L87.3,692.2 L88.7,691.6 L89.5,690.9 L91.3,688.8 L93.1,687.2 L93.9,686.7 L94.6,686.6 L95.0,686.7 L95.7,687.2 L97.2,688.9 L99.0,692.5 L101.2,696.4 L102.3,698.2 L103.4,699.5 L105.2,700.9 L105.9,701.4 L106.7,701.7 L107.4,701.7 L108.1,701.6 L109.2,701.3 L110.3,700.7 L111.1,700.1 L111.8,699.2 L112.5,698.2 L112.9,697.4 L113.6,695.1 L115.1,689.8 L118.0,682.1 L118.8,679.9 L120.2,674.5 L121.3,669.6 L125.0,651.1 L125.7,646.7 L126.4,641.6 L127.2,634.3 L128.6,614.7 L129.4,607.2 L130.8,595.1 L133.4,576.7 L133.8,574.7 L134.1,573.4 L134.5,572.5 L135.2,571.2 L135.6,570.8 L135.9,570.6 L136.3,570.5 L136.7,570.8 L137.0,571.2 L137.4,571.8 L138.1,573.4 L138.5,575.1 L139.2,582.1 L139.6,586.4 L140.3,598.3 L142.2,635.8 L143.3,654.6 L143.6,659.8 L144.4,668.0 L145.8,680.5 L146.9,687.9 L148.4,696.3 L149.5,701.7 L150.6,706.3 L152.0,711.2 L153.5,715.3 L156.1,721.5 L157.2,723.6 L157.9,724.6 L158.6,725.4 L159.4,725.8 L160.8,726.3 L166.7,727.6 L171.4,728.4 L178.4,729.4 L185.3,730.2 L194.9,731.0 L208.0,731.8 L225.2,732.0 L243.3,732.1" fill="none" stroke="#1a14dc" stroke-width="1.6" stroke-linejoin="round" stroke-linecap="round" />
<path d="M50.3,725.2 L54.9,723.9 L60.4,722.5 L63.6,722.0 L75.9,720.0 L79.1,719.3 L80.5,718.7 L81.0,718.3 L81.4,717.7 L82.8,715.4 L83.3,714.3 L85.1,709.1 L86.0,706.9 L88.3,702.2 L89.2,700.5 L90.1,699.5 L91.0,698.8 L92.9,697.9 L94.2,697.5 L94.7,697.5 L95.6,697.9 L97.0,699.1 L97.4,699.8 L99.3,703.9 L101.1,709.0 L102.9,713.6 L103.8,715.6 L105.2,718.1 L106.1,719.4 L107.0,720.4 L108.0,720.8 L109.3,721.2 L112.5,721.9 L114.4,722.1 L124.4,722.2 L126.7,722.0 L129.9,721.6 L133.6,720.8 L135.4,720.4 L136.3,720.4 L137.2,720.5 L138.6,721.0 L140.9,722.3 L145.0,724.0 L148.2,725.0 L151.4,725.9 L155.1,726.5 L168.3,728.4 L174.3,729.1 L193.9,731.0 L200.3,731.5 L216.3,731.9 L243.3,732.1" fill="none" stroke="#3488dd" stroke-width="1.3" stroke-linejoin="round" stroke-linecap="round" />
<path d="M50.3,728.4 L55.4,729.6 L59.5,730.3 L61.3,730.5 L70.5,730.5 L77.3,730.1 L79.6,729.8 L80.5,729.2 L82.3,727.6 L83.3,726.6 L84.2,725.3 L85.1,723.3 L86.0,721.0 L88.3,714.4 L89.2,712.7 L90.1,711.2 L91.0,710.2 L92.0,709.7 L93.3,709.0 L94.2,708.8 L95.2,709.0 L96.1,709.5 L97.4,710.7 L98.4,711.8 L99.3,713.3 L99.7,714.3 L102.9,724.0 L103.8,726.1 L104.8,727.7 L105.7,728.9 L107.0,729.9 L108.4,730.4 L111.2,730.7 L113.4,730.8 L118.0,730.8 L122.1,730.6 L127.2,730.0 L133.6,728.4 L134.5,728.3 L137.2,728.3 L138.1,728.3 L139.5,728.6 L145.9,730.2 L150.5,730.9 L155.1,731.3 L163.3,731.8 L172.4,732.0 L184.8,732.2 L243.3,732.2" fill="none" stroke="#2a2a2a" stroke-width="1.3" stroke-linejoin="round" stroke-linecap="round" />
<path d="M271.5,717.0 L275.5,717.8 L279.4,718.3 L290.1,719.5 L299.6,719.8 L301.5,719.7 L303.9,719.5 L306.7,719.1 L309.0,718.6 L312.6,717.6 L315.0,716.8 L321.3,714.2 L323.7,713.1 L326.4,711.6 L328.8,709.9 L330.4,708.5 L331.9,706.7 L333.9,704.3 L335.9,701.5 L338.3,697.4 L345.0,684.6 L346.2,682.2 L347.3,679.5 L349.7,673.2 L351.3,668.5 L354.4,657.3 L356.8,650.8 L357.6,649.2 L358.0,648.6 L359.6,646.7 L360.8,645.6 L361.6,645.3 L361.9,645.2 L362.7,645.5 L363.5,646.1 L365.9,648.8 L367.5,651.3 L368.7,653.8 L369.4,656.2 L370.2,659.1 L378.5,692.6 L379.7,696.9 L381.3,702.1 L383.7,709.0 L386.8,716.7 L387.6,718.3 L388.4,719.5 L389.2,720.4 L390.0,721.2 L391.2,722.1 L392.3,722.8 L399.1,726.7 L401.0,727.7 L402.6,728.2 L405.0,728.8 L410.1,729.8 L418.0,730.8 L423.9,731.2 L442.9,731.7 L461.0,731.8" fill="none" stroke="#1f8a1f" stroke-width="1.5" stroke-linejoin="round" stroke-linecap="round" />
<path d="M271.5,709.6 L283.0,713.8 L287.7,715.3 L289.7,715.8 L292.5,716.2 L297.6,716.5 L300.4,716.6 L302.7,716.3 L306.3,715.6 L308.6,714.9 L314.2,712.3 L317.7,710.3 L320.1,708.8 L322.9,706.5 L326.4,703.2 L327.6,701.9 L328.8,700.5 L330.0,698.8 L331.5,696.0 L338.7,681.9 L341.0,676.5 L342.2,673.3 L343.0,670.9 L343.8,667.9 L345.0,662.7 L348.5,645.1 L351.3,629.6 L354.0,612.2 L355.2,605.6 L356.4,599.8 L358.0,593.6 L359.2,590.1 L360.8,586.8 L361.2,586.2 L361.6,585.9 L361.9,585.7 L362.3,585.8 L362.7,586.1 L363.5,587.1 L364.7,589.3 L365.1,590.5 L367.9,601.6 L368.7,605.4 L369.1,607.8 L369.8,614.2 L374.6,658.8 L376.9,676.2 L378.5,685.3 L379.7,690.5 L380.9,695.0 L384.8,707.9 L386.0,711.3 L387.2,714.1 L388.4,716.4 L389.6,718.3 L391.2,720.4 L392.7,722.1 L395.5,724.4 L397.9,726.1 L399.5,726.9 L401.0,727.6 L403.4,728.2 L406.2,728.8 L409.7,729.4 L416.8,730.4 L420.4,730.8 L423.5,731.0 L442.9,731.6 L461.0,731.8" fill="none" stroke="#1f8a1f" stroke-width="1.5" stroke-linejoin="round" stroke-linecap="round" />
<path d="M271.5,708.8 L283.0,713.3 L287.7,714.9 L289.7,715.4 L292.5,715.8 L297.6,716.2 L300.4,716.2 L303.1,715.9 L306.7,715.2 L308.6,714.5 L314.6,711.6 L318.5,709.3 L321.3,707.2 L324.4,704.3 L327.2,701.5 L329.2,699.0 L330.4,697.0 L331.5,694.8 L339.0,679.5 L341.0,674.9 L342.2,671.6 L343.0,669.1 L343.8,666.0 L345.0,660.4 L348.5,641.8 L351.3,625.6 L354.0,607.3 L355.2,600.5 L356.4,594.5 L358.0,587.8 L359.2,584.1 L360.8,580.7 L361.2,580.1 L361.6,579.7 L361.9,579.5 L362.3,579.6 L363.1,580.4 L363.9,581.7 L364.7,583.3 L365.5,586.1 L367.9,596.4 L368.7,600.4 L369.1,602.9 L369.8,609.7 L374.6,657.0 L376.9,675.1 L377.7,680.2 L378.5,684.5 L379.7,689.9 L380.9,694.4 L383.3,702.4 L385.2,708.6 L386.4,711.9 L387.2,713.8 L388.4,716.0 L389.6,718.0 L391.2,720.2 L392.7,722.0 L395.1,724.1 L397.5,725.8 L399.1,726.8 L400.6,727.4 L403.0,728.1 L405.8,728.7 L409.3,729.3 L416.8,730.4 L420.4,730.8 L423.5,731.0 L442.9,731.6 L461.0,731.8" fill="none" stroke="#1f8a1f" stroke-width="1.5" stroke-linejoin="round" stroke-linecap="round" />
<path d="M271.5,708.3 L283.4,713.1 L287.7,714.6 L289.7,715.1 L292.5,715.6 L297.6,716.0 L300.4,716.0 L303.1,715.7 L306.7,714.9 L308.6,714.2 L314.6,711.2 L316.5,710.1 L318.5,708.9 L321.3,706.8 L324.4,703.8 L327.2,700.9 L329.2,698.3 L330.4,696.3 L331.5,694.0 L335.1,686.5 L339.4,677.6 L341.4,672.7 L343.0,667.8 L344.6,660.8 L348.5,639.5 L351.3,622.8 L354.0,604.0 L355.2,597.0 L356.4,590.7 L358.0,583.9 L359.2,580.0 L360.8,576.5 L361.2,575.9 L361.6,575.4 L361.9,575.3 L362.3,575.4 L363.1,576.2 L363.9,577.5 L364.7,579.2 L365.5,582.1 L367.9,592.8 L368.7,596.9 L369.1,599.5 L369.8,606.6 L374.6,655.7 L376.9,674.4 L377.7,679.6 L378.5,684.0 L379.7,689.4 L380.9,694.0 L385.2,708.3 L386.4,711.7 L387.2,713.5 L388.4,715.8 L389.6,717.8 L391.2,720.1 L392.7,721.9 L394.7,723.7 L397.1,725.6 L398.7,726.5 L400.2,727.3 L402.6,728.0 L405.4,728.6 L408.9,729.2 L416.4,730.3 L420.4,730.8 L423.5,731.0 L442.9,731.6 L461.0,731.8" fill="none" stroke="#1f8a1f" stroke-width="1.5" stroke-linejoin="round" stroke-linecap="round" />
<path d="M271.5,707.4 L283.4,712.5 L287.7,714.1 L289.7,714.7 L291.7,715.1 L297.2,715.6 L300.4,715.6 L302.7,715.4 L306.3,714.6 L308.6,713.7 L315.0,710.4 L318.5,708.2 L320.9,706.3 L324.0,703.2 L327.2,699.8 L329.2,697.1 L330.4,695.0 L331.5,692.6 L335.1,684.8 L339.4,675.8 L341.4,670.8 L343.0,665.7 L343.8,662.3 L344.6,658.3 L348.5,635.7 L351.3,618.0 L354.0,598.3 L356.0,586.4 L357.6,578.8 L358.8,574.2 L360.0,571.0 L360.8,569.2 L361.2,568.5 L361.6,568.1 L361.9,567.9 L362.3,568.1 L362.7,568.4 L363.1,568.9 L363.9,570.3 L364.7,572.0 L365.5,575.2 L366.7,581.2 L367.9,586.6 L368.7,590.9 L369.1,593.7 L369.8,601.2 L374.6,653.5 L375.8,663.8 L376.9,673.1 L377.7,678.5 L378.5,683.1 L379.7,688.6 L380.9,693.3 L385.2,707.9 L386.4,711.2 L387.2,713.1 L389.6,717.5 L391.2,719.9 L392.7,721.8 L394.7,723.7 L397.1,725.6 L398.7,726.5 L400.2,727.3 L402.2,727.9 L405.0,728.5 L408.5,729.1 L416.4,730.3 L420.4,730.7 L423.5,731.0 L442.9,731.6 L461.0,731.8" fill="none" stroke="#1f8a1f" stroke-width="1.5" stroke-linejoin="round" stroke-linecap="round" />
<path d="M271.5,727.9 L288.0,727.9 L299.2,727.6 L302.5,727.4 L311.0,726.5 L320.9,725.8 L324.8,725.5 L328.8,724.8 L334.0,723.4 L340.0,721.1 L345.2,719.4 L349.8,718.4 L351.2,718.2 L352.5,718.2 L355.1,718.4 L357.7,718.7 L360.4,719.3 L363.7,720.6 L372.9,725.7 L378.8,728.5 L380.8,729.2 L382.7,729.7 L385.4,730.2 L388.0,730.6 L390.6,730.8 L397.2,731.2 L407.7,731.6 L432.7,731.7 L461.0,731.8" fill="none" stroke="#a59a2c" stroke-width="1.3" stroke-linejoin="round" stroke-linecap="round" />
<path d="M271.5,730.8 L311.7,731.2 L317.6,731.1 L324.8,730.6 L326.8,730.3 L328.8,729.9 L333.4,728.5 L335.4,727.7 L338.7,725.7 L340.0,725.0 L343.3,723.7 L344.6,723.3 L345.9,723.0 L347.2,722.9 L349.2,723.1 L351.2,723.4 L352.5,723.6 L353.8,724.0 L358.4,726.0 L363.0,728.1 L368.3,729.9 L369.6,730.3 L371.6,730.6 L377.5,731.2 L384.7,731.5 L399.8,731.7 L461.0,732.0" fill="none" stroke="#2a2a2a" stroke-width="1.3" stroke-linejoin="round" stroke-linecap="round" />
<path d="M489.1,679.3 L495.1,685.1 L498.6,688.7 L501.1,690.8 L503.1,692.3 L504.6,693.1 L507.6,694.6 L509.1,694.9 L510.1,694.9 L511.6,694.7 L514.6,693.8 L516.1,693.1 L518.1,691.5 L520.1,689.6 L522.1,687.5 L523.6,685.5 L527.1,680.3 L531.1,675.5 L532.1,674.4 L533.1,673.6 L534.2,673.0 L534.7,672.9 L535.7,672.9 L537.2,673.4 L538.7,674.1 L541.7,676.0 L543.2,677.1 L546.2,679.9 L547.7,681.2 L551.7,683.9 L553.2,684.7 L554.2,685.1 L556.7,685.7 L559.2,686.1 L561.2,686.3 L562.7,686.2 L563.7,686.0 L565.2,685.4 L567.2,684.4 L569.2,683.1 L570.7,681.9 L572.7,679.7 L575.2,676.6 L576.7,674.4 L578.2,671.8 L580.2,667.8 L582.7,662.3 L584.3,658.7 L585.8,654.5 L587.3,649.4 L588.8,642.7 L593.8,618.7 L594.8,614.5 L596.8,607.3 L597.8,604.2 L598.8,602.0 L599.8,600.6 L600.8,599.5 L601.3,599.2 L601.8,599.0 L602.3,599.0 L603.3,599.5 L604.8,600.8 L605.3,601.4 L605.8,602.4 L606.3,603.7 L607.3,607.1 L609.8,616.6 L612.8,629.9 L615.8,642.0 L616.8,645.4 L618.3,649.3 L619.3,651.5 L620.8,654.2 L622.8,657.1 L624.3,658.8 L625.8,660.1 L627.3,661.0 L630.3,662.4 L633.3,663.4 L634.4,663.9 L634.9,664.4 L635.9,665.6 L638.4,669.6 L639.9,672.7 L641.9,677.4 L644.9,685.8 L646.4,690.4 L648.4,697.1 L651.4,708.3 L652.4,711.6 L654.9,719.3 L655.9,721.8 L656.4,722.7 L658.4,725.8 L659.9,727.4 L660.9,728.2 L661.9,728.8 L664.4,729.9 L666.9,730.6 L670.9,731.1 L675.4,731.5 L679.6,731.7" fill="none" stroke="#e41e1e" stroke-width="1.5" stroke-linejoin="round" stroke-linecap="round" />
<path d="M489.1,678.5 L498.6,687.7 L501.1,689.7 L503.1,691.1 L504.6,691.9 L507.6,693.1 L509.1,693.5 L510.1,693.5 L511.6,693.2 L514.6,692.3 L516.1,691.6 L518.1,690.1 L520.1,688.2 L522.1,686.0 L523.6,684.0 L527.1,678.8 L531.1,674.0 L532.1,672.9 L533.1,672.0 L534.2,671.5 L534.7,671.4 L535.7,671.4 L537.2,671.8 L538.7,672.6 L541.7,674.5 L543.2,675.7 L546.2,678.5 L547.7,679.9 L551.7,682.6 L553.2,683.4 L554.2,683.8 L556.7,684.3 L559.2,684.7 L561.2,684.8 L562.7,684.8 L563.7,684.6 L565.2,684.0 L567.2,682.9 L569.2,681.7 L570.7,680.4 L572.7,678.3 L575.2,675.1 L576.7,672.9 L578.2,670.1 L580.2,666.0 L582.7,660.4 L584.3,656.7 L585.8,652.4 L587.3,647.2 L588.8,640.3 L593.8,615.6 L594.8,611.3 L596.8,603.7 L597.8,600.4 L598.8,598.0 L599.8,596.5 L600.8,595.2 L601.3,594.8 L601.8,594.6 L602.3,594.7 L603.3,595.1 L604.8,596.5 L605.3,597.1 L605.8,598.2 L606.3,599.6 L607.3,603.3 L609.8,613.4 L612.8,627.4 L615.8,640.2 L616.8,643.8 L618.3,647.8 L619.3,650.1 L620.8,652.9 L622.3,655.1 L624.3,657.5 L625.8,658.8 L627.3,659.7 L630.3,661.1 L633.3,662.1 L634.4,662.7 L634.9,663.2 L635.9,664.5 L638.4,668.6 L639.9,671.7 L641.4,675.2 L642.9,679.2 L644.4,683.6 L645.9,688.2 L647.9,694.9 L651.4,708.0 L653.4,714.6 L654.9,719.2 L655.9,721.6 L656.4,722.6 L658.4,725.7 L659.9,727.3 L660.9,728.1 L661.9,728.7 L664.4,729.9 L666.9,730.6 L670.4,731.1 L675.4,731.5 L679.6,731.7" fill="none" stroke="#e41e1e" stroke-width="1.5" stroke-linejoin="round" stroke-linecap="round" />
<path d="M489.1,676.7 L497.6,684.5 L499.1,685.8 L500.6,686.8 L502.6,688.1 L504.1,688.8 L507.1,689.8 L509.1,690.1 L510.1,690.1 L511.6,689.9 L514.6,689.0 L516.1,688.3 L518.1,686.7 L520.1,684.8 L522.1,682.7 L523.6,680.6 L527.1,675.3 L531.1,670.5 L532.1,669.4 L533.1,668.6 L534.2,668.0 L534.7,667.9 L535.7,667.9 L536.7,668.2 L538.2,668.9 L539.7,669.8 L541.7,671.2 L542.7,671.9 L546.2,675.5 L547.7,676.8 L551.7,679.6 L553.2,680.4 L554.2,680.8 L556.2,681.1 L558.7,681.5 L561.2,681.7 L562.7,681.6 L563.7,681.4 L565.2,680.8 L568.2,679.0 L569.7,677.9 L571.2,676.6 L573.2,674.4 L575.2,671.8 L576.7,669.4 L578.2,666.5 L580.2,662.0 L583.2,654.8 L584.8,650.7 L586.8,644.2 L587.8,639.9 L593.8,608.8 L594.8,604.1 L597.3,593.7 L598.3,590.3 L598.8,589.0 L599.8,587.2 L600.8,585.6 L601.3,585.1 L601.8,584.8 L602.3,584.8 L603.3,585.3 L604.8,586.8 L605.3,587.5 L605.8,588.7 L606.3,590.4 L607.3,594.6 L609.8,606.3 L612.8,621.9 L615.8,636.2 L616.8,640.2 L618.3,644.5 L619.3,646.9 L620.8,649.8 L622.3,652.1 L623.8,653.9 L625.3,655.4 L627.3,656.7 L630.3,658.2 L633.3,659.4 L634.4,660.0 L634.9,660.5 L635.9,661.9 L638.4,666.2 L639.9,669.5 L641.4,673.2 L643.9,680.5 L645.9,686.9 L647.9,693.8 L651.4,707.3 L652.4,710.7 L654.9,718.8 L655.9,721.3 L656.4,722.3 L658.4,725.4 L659.9,727.2 L660.9,728.0 L661.9,728.6 L664.4,729.8 L665.9,730.3 L666.9,730.6 L670.4,731.1 L675.4,731.5 L679.6,731.7" fill="none" stroke="#e41e1e" stroke-width="1.5" stroke-linejoin="round" stroke-linecap="round" />
<path d="M489.1,676.4 L492.6,679.6 L497.6,684.1 L499.1,685.3 L501.1,686.7 L503.1,687.8 L504.6,688.5 L507.6,689.3 L509.6,689.5 L510.6,689.4 L512.1,689.1 L515.1,688.1 L516.6,687.3 L518.1,686.1 L520.1,684.2 L522.1,682.0 L523.6,680.0 L527.1,674.6 L531.1,669.8 L532.1,668.7 L533.1,667.9 L534.2,667.3 L534.7,667.2 L535.7,667.2 L536.7,667.5 L538.2,668.2 L539.7,669.2 L541.7,670.5 L542.7,671.3 L546.2,674.8 L547.7,676.2 L551.7,679.0 L553.2,679.8 L554.2,680.2 L556.2,680.5 L558.7,680.9 L561.2,681.1 L562.7,681.0 L563.7,680.8 L565.2,680.1 L568.2,678.3 L569.7,677.3 L571.2,675.9 L573.2,673.7 L575.2,671.1 L576.7,668.7 L578.2,665.8 L580.2,661.2 L583.2,653.9 L584.8,649.8 L586.8,643.2 L587.8,638.9 L593.8,607.4 L594.8,602.7 L597.3,592.0 L598.3,588.6 L598.8,587.3 L599.8,585.3 L600.8,583.7 L601.3,583.2 L601.8,582.9 L602.3,582.9 L603.3,583.4 L604.8,584.9 L605.3,585.6 L605.8,586.9 L606.3,588.6 L607.3,592.9 L609.8,604.9 L612.8,620.8 L615.8,635.4 L616.8,639.5 L618.3,643.9 L619.3,646.3 L620.8,649.2 L622.3,651.5 L623.8,653.3 L625.3,654.8 L627.3,656.1 L630.3,657.7 L633.3,658.8 L634.4,659.5 L634.9,660.0 L635.9,661.4 L638.4,665.8 L639.9,669.0 L641.4,672.7 L643.4,678.6 L645.4,685.0 L647.4,691.8 L651.4,707.1 L652.4,710.6 L654.9,718.7 L655.9,721.2 L656.4,722.2 L658.4,725.4 L659.9,727.1 L660.9,727.9 L661.9,728.6 L664.4,729.8 L665.9,730.3 L666.9,730.6 L670.4,731.1 L675.4,731.5 L679.6,731.7" fill="none" stroke="#e41e1e" stroke-width="1.5" stroke-linejoin="round" stroke-linecap="round" />
<path d="M489.1,707.1 L494.1,709.3 L499.9,711.3 L502.4,712.1 L504.1,712.4 L505.8,712.6 L509.9,712.3 L514.9,711.5 L516.6,711.0 L519.1,709.8 L523.3,707.4 L525.8,706.1 L530.8,703.1 L532.5,702.3 L533.3,702.1 L535.0,701.9 L537.5,702.2 L541.7,703.2 L543.3,703.7 L547.5,705.4 L551.7,706.6 L555.0,707.4 L559.2,707.8 L563.4,708.1 L565.0,708.1 L566.7,707.7 L568.4,706.9 L570.1,706.0 L571.7,705.0 L573.4,703.8 L575.9,701.2 L577.6,699.2 L579.2,696.9 L580.9,694.5 L582.6,691.6 L586.8,682.4 L590.1,674.5 L590.9,672.8 L591.8,671.4 L593.4,669.1 L595.1,667.2 L595.9,666.4 L597.6,665.3 L599.3,664.4 L600.1,664.1 L601.0,664.0 L601.8,664.0 L602.6,664.3 L604.3,665.4 L605.1,666.1 L606.0,667.1 L606.8,668.4 L609.3,673.2 L613.5,681.7 L616.0,685.8 L617.7,688.1 L618.5,689.1 L619.3,689.9 L621.0,691.2 L622.7,692.3 L626.0,694.3 L630.2,696.5 L634.4,698.3 L636.9,699.7 L639.4,701.4 L641.9,703.4 L642.7,704.3 L643.5,705.3 L648.5,713.6 L652.7,720.1 L656.1,724.6 L657.7,726.5 L659.4,727.8 L661.1,728.8 L663.6,729.8 L666.1,730.5 L668.6,730.9 L672.8,731.3 L676.1,731.6 L679.6,731.7" fill="none" stroke="#e23434" stroke-width="1.45" stroke-linejoin="round" stroke-linecap="round" />
<path d="M489.1,731.4 L497.4,731.2 L509.1,730.6 L512.4,730.3 L522.5,728.9 L530.0,728.1 L533.3,727.8 L535.8,727.7 L541.7,727.9 L563.4,729.4 L568.4,729.4 L573.4,729.1 L580.1,728.4 L583.4,727.9 L585.1,727.5 L587.6,726.7 L597.6,722.7 L599.3,722.3 L600.1,722.2 L601.8,722.4 L603.5,722.8 L607.6,724.1 L609.3,724.9 L613.5,727.3 L615.1,728.0 L620.2,729.5 L622.7,730.1 L624.3,730.3 L631.8,731.0 L640.2,731.4 L661.1,731.8 L679.6,731.9" fill="none" stroke="#e040e0" stroke-width="1.4" stroke-linejoin="round" stroke-linecap="round" />
<path d="M489.1,731.7 L576.7,731.6 L582.6,731.3 L591.8,730.4 L597.6,729.4 L600.1,729.2 L602.6,729.4 L606.8,730.2 L608.5,730.4 L616.8,731.2 L622.7,731.6 L646.9,731.8 L679.6,731.9" fill="none" stroke="#3a1f3a" stroke-width="1.3" stroke-linejoin="round" stroke-linecap="round" />
<line x1="421.94" y1="191.74" x2="671.19" y2="23.44" stroke="#e0302c" stroke-width="1.5"/>
<line x1="418.74" y1="192.46" x2="425.14" y2="198.86" stroke="#111" stroke-width="1.2" />
<line x1="418.74" y1="198.86" x2="425.14" y2="192.46" stroke="#111" stroke-width="1.2" />
<line x1="443.67" y1="172.84" x2="450.06" y2="179.24" stroke="#111" stroke-width="1.2" />
<line x1="443.67" y1="179.24" x2="450.06" y2="172.84" stroke="#111" stroke-width="1.2" />
<line x1="468.59" y1="153.22" x2="474.99" y2="159.62" stroke="#111" stroke-width="1.2" />
<line x1="468.59" y1="159.62" x2="474.99" y2="153.22" stroke="#111" stroke-width="1.2" />
<line x1="493.52" y1="133.6" x2="499.92" y2="140" stroke="#111" stroke-width="1.2" />
<line x1="493.52" y1="140" x2="499.92" y2="133.6" stroke="#111" stroke-width="1.2" />
<line x1="518.44" y1="116.16" x2="524.84" y2="122.56" stroke="#111" stroke-width="1.2" />
<line x1="518.44" y1="122.56" x2="524.84" y2="116.16" stroke="#111" stroke-width="1.2" />
<line x1="543.37" y1="105.26" x2="549.77" y2="111.66" stroke="#111" stroke-width="1.2" />
<line x1="543.37" y1="111.66" x2="549.77" y2="105.26" stroke="#111" stroke-width="1.2" />
<line x1="568.29" y1="90" x2="574.69" y2="96.4" stroke="#111" stroke-width="1.2" />
<line x1="568.29" y1="96.4" x2="574.69" y2="90" stroke="#111" stroke-width="1.2" />
<line x1="593.21" y1="74.74" x2="599.62" y2="81.14" stroke="#111" stroke-width="1.2" />
<line x1="593.21" y1="81.14" x2="599.62" y2="74.74" stroke="#111" stroke-width="1.2" />
<line x1="618.14" y1="55.12" x2="624.54" y2="61.52" stroke="#111" stroke-width="1.2" />
<line x1="618.14" y1="61.52" x2="624.54" y2="55.12" stroke="#111" stroke-width="1.2" />
<line x1="643.06" y1="37.68" x2="649.47" y2="44.08" stroke="#111" stroke-width="1.2" />
<line x1="643.06" y1="44.08" x2="649.47" y2="37.68" stroke="#111" stroke-width="1.2" />
<line x1="667.99" y1="18.06" x2="674.39" y2="24.46" stroke="#111" stroke-width="1.2" />
<line x1="667.99" y1="24.46" x2="674.39" y2="18.06" stroke="#111" stroke-width="1.2" />
<line x1="407.5" y1="21.9" x2="670.5" y2="21.9" stroke="#222" stroke-width="1.0" stroke-dasharray="2.8,2.2"/>
<polygon points="402.60,21.90 408.20,19.00 408.20,24.80" fill="#111"/>
<line x1="671" y1="21.9" x2="671" y2="218" stroke="#222" stroke-width="1.0" stroke-dasharray="2.8,2.2"/>
<polygon points="671.00,223.40 668.10,217.80 673.90,217.80" fill="#111"/>
<line x1="423.4" y1="50" x2="423.4" y2="155" stroke="#222" stroke-width="1.0" stroke-dasharray="2.8,2.2"/>
<polygon points="423.40,44.80 420.50,50.40 426.30,50.40" fill="#111"/>
<line x1="408.5" y1="196.2" x2="419" y2="196.2" stroke="#222" stroke-width="1.0" stroke-dasharray="2.8,2.2"/>
<polygon points="403.20,196.20 408.80,193.30 408.80,199.10" fill="#111"/>
<line x1="422.2" y1="199.5" x2="422.2" y2="217" stroke="#222" stroke-width="1.0" stroke-dasharray="2.8,2.2"/>
<polygon points="422.20,222.50 419.30,216.90 425.10,216.90" fill="#111"/>
<line x1="503" y1="213.8" x2="593.5" y2="213.8" stroke="#222" stroke-width="1.0" stroke-dasharray="2.8,2.2"/>
<polygon points="599.00,213.80 593.40,210.90 593.40,216.70" fill="#111"/>
<text x="500.7" y="13.1" font-size="12.3" fill="#222" text-anchor="start">λ<tspan font-size="8.2" dy="2.4">em</tspan><tspan font-size="8.2" dy="-6.4">max</tspan><tspan dy="4"> = <tspan font-style="italic">f</tspan><tspan dx="0.8">(</tspan>λ<tspan font-size="8.2" dy="2.4">ex</tspan><tspan dy="-2.4" dx="1.5">)</tspan></tspan></text>
<text x="410.7" y="35" font-size="12.0" fill="#222" text-anchor="start">λ<tspan font-size="8.2" dy="2.4">em</tspan><tspan font-size="8.2" dy="-6.4">max</tspan><tspan dy="4"> = 673nm</tspan></text>
<text x="474" y="89.8" font-size="12" text-anchor="middle" fill="#111" font-weight="bold" >Slope =</text>
<text x="474.2" y="103.7" font-size="12" text-anchor="middle" fill="#111" font-weight="bold" >0.77182</text>
<text x="473.5" y="118.4" font-size="12" text-anchor="middle" fill="#111" font-weight="bold" >R² = 0.99665</text>
<text x="407.7" y="169" font-size="12.0" fill="#222" text-anchor="start">λ<tspan font-size="8.2" dy="2.4">em</tspan><tspan font-size="8.2" dy="-6.4">max</tspan><tspan dy="4"> =</tspan></text>
<text x="407.7" y="182.1" font-size="12" text-anchor="start" fill="#222" font-weight="normal" >593nm</text>
<text x="430.1" y="213.5" font-size="12.0" fill="#222" text-anchor="start">λ<tspan font-size="8.2" dy="2.4">ex</tspan><tspan dy="-2.4"> = 488nm</tspan></text>
<text x="520.3" y="208.4" font-size="12" text-anchor="start" fill="#222" font-weight="normal" >10nm-step</text>
<text x="600" y="214.6" font-size="12.0" fill="#222" text-anchor="start">λ<tspan font-size="8.2" dy="2.4">ex</tspan><tspan dy="-2.4"> = 588nm</tspan></text>
<line x1="424.81" y1="455.87" x2="671.31" y2="292.28" stroke="#e0302c" stroke-width="1.5"/>
<line x1="421.61" y1="455.29" x2="428.01" y2="461.69" stroke="#111" stroke-width="1.2" />
<line x1="421.61" y1="461.69" x2="428.01" y2="455.29" stroke="#111" stroke-width="1.2" />
<line x1="446.26" y1="434.95" x2="452.66" y2="441.35" stroke="#111" stroke-width="1.2" />
<line x1="446.26" y1="441.35" x2="452.66" y2="434.95" stroke="#111" stroke-width="1.2" />
<line x1="470.91" y1="418.97" x2="477.31" y2="425.37" stroke="#111" stroke-width="1.2" />
<line x1="470.91" y1="425.37" x2="477.31" y2="418.97" stroke="#111" stroke-width="1.2" />
<line x1="495.56" y1="402.99" x2="501.96" y2="409.39" stroke="#111" stroke-width="1.2" />
<line x1="495.56" y1="409.39" x2="501.96" y2="402.99" stroke="#111" stroke-width="1.2" />
<line x1="520.21" y1="387.01" x2="526.61" y2="393.41" stroke="#111" stroke-width="1.2" />
<line x1="520.21" y1="393.41" x2="526.61" y2="387.01" stroke="#111" stroke-width="1.2" />
<line x1="544.86" y1="371.02" x2="551.26" y2="377.42" stroke="#111" stroke-width="1.2" />
<line x1="544.86" y1="377.42" x2="551.26" y2="371.02" stroke="#111" stroke-width="1.2" />
<line x1="569.51" y1="355.04" x2="575.91" y2="361.44" stroke="#111" stroke-width="1.2" />
<line x1="569.51" y1="361.44" x2="575.91" y2="355.04" stroke="#111" stroke-width="1.2" />
<line x1="594.16" y1="337.61" x2="600.56" y2="344.01" stroke="#111" stroke-width="1.2" />
<line x1="594.16" y1="344.01" x2="600.56" y2="337.61" stroke="#111" stroke-width="1.2" />
<line x1="618.81" y1="321.63" x2="625.21" y2="328.03" stroke="#111" stroke-width="1.2" />
<line x1="618.81" y1="328.03" x2="625.21" y2="321.63" stroke="#111" stroke-width="1.2" />
<line x1="643.46" y1="305.65" x2="649.86" y2="312.05" stroke="#111" stroke-width="1.2" />
<line x1="643.46" y1="312.05" x2="649.86" y2="305.65" stroke="#111" stroke-width="1.2" />
<line x1="668.11" y1="289.66" x2="674.51" y2="296.06" stroke="#111" stroke-width="1.2" />
<line x1="668.11" y1="296.06" x2="674.51" y2="289.66" stroke="#111" stroke-width="1.2" />
<line x1="407.5" y1="292.8" x2="671.5" y2="292.8" stroke="#222" stroke-width="1.0" stroke-dasharray="2.8,2.2"/>
<polygon points="402.40,292.80 408.00,289.90 408.00,295.70" fill="#111"/>
<line x1="672.4" y1="292.8" x2="672.4" y2="480" stroke="#222" stroke-width="1.0" stroke-dasharray="2.8,2.2"/>
<polygon points="672.40,485.80 669.50,480.20 675.30,480.20" fill="#111"/>
<line x1="423.8" y1="313.4" x2="423.8" y2="409" stroke="#222" stroke-width="1.0" stroke-dasharray="2.8,2.2"/>
<polygon points="423.80,414.60 420.90,409.00 426.70,409.00" fill="#111"/>
<line x1="408" y1="459.4" x2="422" y2="459.4" stroke="#222" stroke-width="1.0" stroke-dasharray="2.8,2.2"/>
<polygon points="402.60,459.40 408.20,456.50 408.20,462.30" fill="#111"/>
<line x1="423.8" y1="462.5" x2="423.8" y2="483.5" stroke="#222" stroke-width="1.0" stroke-dasharray="2.8,2.2"/>
<polygon points="423.80,489.00 420.90,483.40 426.70,483.40" fill="#111"/>
<line x1="500" y1="478.3" x2="594.7" y2="478.3" stroke="#222" stroke-width="1.0" stroke-dasharray="2.8,2.2"/>
<polygon points="494.80,478.30 500.40,475.40 500.40,481.20" fill="#111"/>
<text x="501.3" y="281.6" font-size="12.3" fill="#222" text-anchor="start">λ<tspan font-size="8.2" dy="2.4">ex</tspan><tspan font-size="8.2" dy="-6.4">max</tspan><tspan dy="4"> = <tspan font-style="italic">f</tspan><tspan dx="0.8">(</tspan>λ<tspan font-size="8.2" dy="2.4">em</tspan><tspan dy="-2.4" dx="1.5">)</tspan></tspan></text>
<text x="408.5" y="303.7" font-size="12.0" fill="#222" text-anchor="start">λ<tspan font-size="8.2" dy="2.4">ex</tspan><tspan font-size="8.2" dy="-6.4">max</tspan><tspan dy="4"> = 655nm</tspan></text>
<text x="473" y="352.4" font-size="12" text-anchor="middle" fill="#111" font-weight="bold" >Slope =</text>
<text x="473" y="366.8" font-size="12" text-anchor="middle" fill="#111" font-weight="bold" >1.12636</text>
<text x="473" y="381.3" font-size="12" text-anchor="middle" fill="#111" font-weight="bold" >R² = 0.99958</text>
<text x="406.1" y="426.6" font-size="12.0" fill="#222" text-anchor="start">λ<tspan font-size="8.2" dy="2.4">ex</tspan><tspan font-size="8.2" dy="-6.4">max</tspan><tspan dy="4"> =</tspan></text>
<text x="406.1" y="441.9" font-size="12" text-anchor="start" fill="#222" font-weight="normal" >541nm</text>
<text x="426.5" y="479.1" font-size="12.0" fill="#222" text-anchor="start">λ<tspan font-size="8.2" dy="2.4">em</tspan><tspan dy="-2.4"> = 634nm</tspan></text>
<text x="519" y="470.8" font-size="12" text-anchor="start" fill="#222" font-weight="normal" >10nm-step</text>
<text x="595.1" y="479" font-size="12.0" fill="#222" text-anchor="start">λ<tspan font-size="8.2" dy="2.4">em</tspan><tspan dy="-2.4"> = 734nm</tspan></text>
<text x="52.6" y="546.4" font-size="12" text-anchor="start" fill="#111" font-weight="bold" >Excitation</text>
<text x="55.7" y="560.6" font-size="12" text-anchor="start" fill="#111" font-weight="bold" >at 408nm</text>
<text x="125.6" y="563" font-size="12" text-anchor="start" fill="#222" font-weight="normal" >519nm</text>
<line x1="146.5" y1="630.3" x2="146.5" y2="576.4" stroke="#555" stroke-width="1.1" />
<polygon points="146.50,572.40 144.20,577.40 148.80,577.40" fill="#222"/>
<text x="148.4" y="586.3" font-size="12" text-anchor="start" fill="#111" font-weight="bold" >Buffer</text>
<text x="148.4" y="600.6" font-size="12" text-anchor="start" fill="#3d7fe0" font-weight="bold" >+10μM TASQ</text>
<text x="148.4" y="614.8" font-size="12" text-anchor="start" fill="#1a1ad6" font-weight="bold" >+1 to 5μM 22AG</text>
<text x="76.9" y="679.3" font-size="12" text-anchor="start" fill="#222" font-weight="normal" >474nm</text>
<text x="69" y="749.6" font-size="12" text-anchor="start" fill="#4a78d8" font-weight="normal" >DAPI</text>
<text x="144.6" y="749.1" font-size="12" text-anchor="start" fill="#a2bc68" font-weight="normal" >FITC</text>
<text x="207.9" y="749.1" font-size="12" text-anchor="start" fill="#c9566a" font-weight="normal" >Alexa</text>
<text x="273.7" y="546.2" font-size="12" text-anchor="start" fill="#111" font-weight="bold" >Excitation</text>
<text x="276" y="560.5" font-size="12" text-anchor="start" fill="#111" font-weight="bold" >at 488nm</text>
<text x="352.7" y="560.1" font-size="12" text-anchor="start" fill="#222" font-weight="normal" >592nm</text>
<line x1="374.4" y1="631" x2="374.4" y2="575.8" stroke="#555" stroke-width="1.1" />
<polygon points="374.40,571.80 372.10,576.80 376.70,576.80" fill="#222"/>
<text x="376.8" y="586.2" font-size="12" text-anchor="start" fill="#111" font-weight="bold" >Buffer</text>
<text x="376.8" y="599.5" font-size="12" text-anchor="start" fill="#a09020" font-weight="bold" >+10μM TASQ</text>
<text x="376.8" y="613.6" font-size="12" text-anchor="start" fill="#228a22" font-weight="bold" >+1 to 5μM 22AG</text>
<text x="333.4" y="741" font-size="12" text-anchor="start" fill="#222" font-weight="normal" >585nm</text>
<text x="303.5" y="749.7" font-size="12" text-anchor="start" fill="#a2bc68" font-weight="normal" >FITC</text>
<text x="397.5" y="749.8" font-size="12" text-anchor="start" fill="#c9566a" font-weight="normal" >Alexa</text>
<text x="492.6" y="545.9" font-size="12" text-anchor="start" fill="#111" font-weight="bold" >Excitation</text>
<text x="494.9" y="560.7" font-size="12" text-anchor="start" fill="#111" font-weight="bold" >at 555nm</text>
<text x="593.6" y="575.3" font-size="12" text-anchor="start" fill="#222" font-weight="normal" >647nm</text>
<text x="518.3" y="659" font-size="12" text-anchor="start" fill="#222" font-weight="normal" >607nm</text>
<line x1="584.6" y1="629.7" x2="584.6" y2="576.5" stroke="#555" stroke-width="1.1" />
<polygon points="584.60,572.50 582.30,577.50 586.90,577.50" fill="#222"/>
<text x="579.3" y="585.7" font-size="12" text-anchor="end" fill="#111" font-weight="bold" >Buffer</text>
<text x="579.3" y="599.5" font-size="12" text-anchor="end" fill="#f07a7a" font-weight="bold" >+10μM TASQ</text>
<text x="579.3" y="613.6" font-size="12" text-anchor="end" fill="#e01a1a" font-weight="bold" >+1 to 5μM 22AG</text>
<text x="489" y="750" font-size="12" text-anchor="start" fill="#a2bc68" font-weight="normal" >FITC</text>
<text x="583.8" y="749.6" font-size="12" text-anchor="start" fill="#c9566a" font-weight="normal" >Alexa</text>
<text x="93.3" y="721.3" font-size="13.5" text-anchor="middle" fill="#222" font-weight="normal" >*</text>
<text x="134.8" y="737.9" font-size="13.5" text-anchor="middle" fill="#222" font-weight="normal" >*</text>
<text x="346.3" y="731.4" font-size="13.5" text-anchor="middle" fill="#222" font-weight="normal" >*</text>
<text x="602.2" y="738.5" font-size="13.5" text-anchor="middle" fill="#222" font-weight="normal" >*</text>
</svg></body></html>
